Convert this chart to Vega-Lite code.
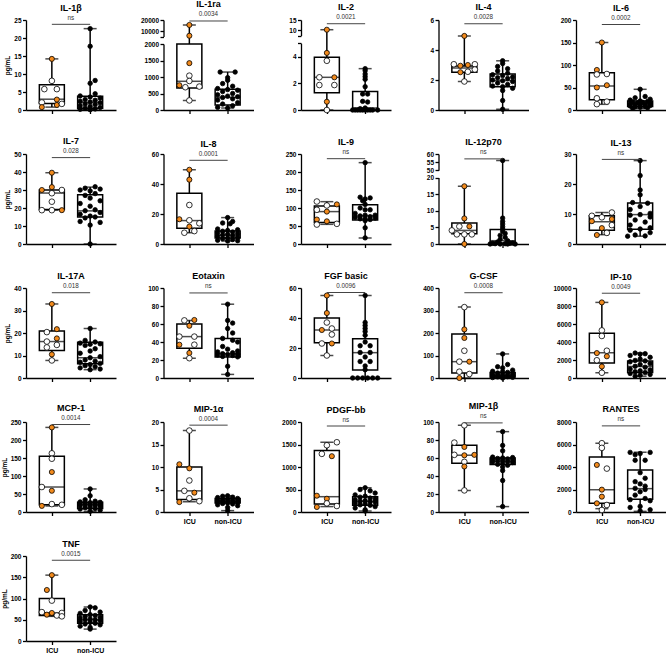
{
"$schema":"https://vega.github.io/schema/vega-lite/v6.json",
"padding":{"left":1,"top":0,"right":0,"bottom":0},
"columns":5,
"spacing":{"row":44,"column":47.5},
"bounds":"flush",
"config":{
 "view":{"stroke":null},
 "font":"Liberation Sans",
 "axis":{"grid":false,"labelOverlap":false,"domainColor":"#000","domainWidth":1.3,"tickColor":"#000","tickWidth":1.3,"tickSize":3.5,"labelColor":"#000","labelFont":"Liberation Sans","labelFontSize":6.5,"labelFontWeight":"bold","labelPadding":1.5,"titleFont":"Liberation Sans","titleFontSize":6.5,"titleFontWeight":"bold","titleColor":"#000","titlePadding":3},
 "axisX":{"labelFontSize":7,"labelPadding":2,"labelAngle":0},
 "axisY":{"tickCount":20},
 "title":{"font":"Liberation Sans","fontSize":9,"fontWeight":"bold","color":"#000","offset":2},
 "tick":{"thickness":1.5,"color":"#000"},
 "rule":{"color":"#000","strokeWidth":1.5},
 "bar":{"fill":"#fff","stroke":"#000","strokeWidth":1.5},
 "circle":{"stroke":"#000","strokeWidth":0.8,"opacity":1},
 "text":{"fontSize":6.3,"color":"#333","dx":19,"dy":-6.5,"font":"Liberation Sans"},
 "range":{"category":["#000000","#F28A1C","#ffffff"]}
},
"datasets":{
"box":[
{"c":1,"g":"ICU","lo":0.8,"q1":1.8,"md":3.0,"q3":7.0,"hi":14.2},
{"c":1,"g":"non-ICU","lo":0.1,"q1":0.5,"md":2.1,"q3":3.8,"hi":22.6},
{"c":2,"g":"ICU","lo":290,"q1":670,"md":870,"q3":2000,"hi":15500},
{"c":2,"g":"non-ICU","lo":60,"q1":150,"md":380,"q3":630,"hi":1150},
{"c":3,"g":"ICU","lo":0,"q1":1.3,"md":2.45,"q3":3.95,"hi":10.3},
{"c":3,"g":"non-ICU","lo":0,"q1":0,"md":0.15,"q3":1.38,"hi":3.1},
{"c":4,"g":"ICU","lo":1.9,"q1":2.52,"md":2.8,"q3":2.94,"hi":4.94},
{"c":4,"g":"non-ICU","lo":0.05,"q1":1.55,"md":1.96,"q3":2.4,"hi":3.28},
{"c":5,"g":"ICU","lo":12.6,"q1":23,"md":53.5,"q3":83,"hi":150},
{"c":5,"g":"non-ICU","lo":3,"q1":8,"md":13,"q3":20,"hi":46},
{"c":6,"g":"ICU","lo":18.8,"q1":19.2,"md":28.3,"q3":30,"hi":39.6},
{"c":6,"g":"non-ICU","lo":0,"q1":15,"md":18.4,"q3":27.4,"hi":31.6},
{"c":7,"g":"ICU","lo":7.5,"q1":10.5,"md":15.6,"q3":33.8,"hi":49.5},
{"c":7,"g":"non-ICU","lo":2,"q1":4,"md":5.9,"q3":8.6,"hi":17.6},
{"c":8,"g":"ICU","lo":54.6,"q1":60,"md":90,"q3":105.6,"hi":117.6},
{"c":8,"g":"non-ICU","lo":16.7,"q1":67,"md":78,"q3":109,"hi":226},
{"c":9,"g":"ICU","lo":0,"q1":3.1,"md":4.1,"q3":6.3,"hi":17.4},
{"c":9,"g":"non-ICU","lo":0,"q1":0.3,"md":1.0,"q3":4.4,"hi":56},
{"c":10,"g":"ICU","lo":3.1,"q1":4.6,"md":7.4,"q3":9.4,"hi":10.5},
{"c":10,"g":"non-ICU","lo":2.6,"q1":4.9,"md":9.8,"q3":13.7,"hi":27.8},
{"c":11,"g":"ICU","lo":7.8,"q1":12.2,"md":16.2,"q3":20.9,"hi":32.9},
{"c":11,"g":"non-ICU","lo":3.7,"q1":6.3,"md":9.0,"q3":15.9,"hi":22},
{"c":12,"g":"ICU","lo":22,"q1":33,"md":46,"q3":60,"hi":64},
{"c":12,"g":"non-ICU","lo":4,"q1":23.4,"md":27.1,"q3":44,"hi":82},
{"c":13,"g":"ICU","lo":15,"q1":23.5,"md":32,"q3":40,"hi":55},
{"c":13,"g":"non-ICU","lo":0,"q1":5.3,"md":16.9,"q3":26.2,"hi":55},
{"c":14,"g":"ICU","lo":0,"q1":22,"md":72.6,"q3":195.5,"hi":315.6},
{"c":14,"g":"non-ICU","lo":0,"q1":5,"md":12,"q3":25,"hi":107},
{"c":15,"g":"ICU","lo":584,"q1":1680,"md":2810,"q3":4964,"hi":8400},
{"c":15,"g":"non-ICU","lo":200,"q1":600,"md":1280,"q3":1900,"hi":2770},
{"c":16,"g":"ICU","lo":16.7,"q1":20.4,"md":69.4,"q3":154.6,"hi":235},
{"c":16,"g":"non-ICU","lo":2,"q1":10,"md":20,"q3":27,"hi":64},
{"c":17,"g":"ICU","lo":2.3,"q1":2.8,"md":4.7,"q3":10,"hi":18.1},
{"c":17,"g":"non-ICU","lo":0.3,"q1":2.0,"md":2.4,"q3":3.0,"hi":3.6},
{"c":18,"g":"ICU","lo":120,"q1":180,"md":340,"q3":1365,"hi":1550},
{"c":18,"g":"non-ICU","lo":22,"q1":148,"md":236,"q3":340,"hi":539},
{"c":19,"g":"ICU","lo":24,"q1":54.2,"md":63.1,"q3":74.2,"hi":96.3},
{"c":19,"g":"non-ICU","lo":6,"q1":52.8,"md":56,"q3":60.1,"hi":89.3},
{"c":20,"g":"ICU","lo":297,"q1":772,"md":1988,"q3":4896,"hi":6113},
{"c":20,"g":"non-ICU","lo":59,"q1":1128,"md":2077,"q3":3739,"hi":5312},
{"c":21,"g":"ICU","lo":58,"q1":60,"md":66,"q3":100,"hi":155},
{"c":21,"g":"non-ICU","lo":28,"q1":42,"md":50,"q3":62,"hi":80}
],
"sig":[
{"c":1,"v":23.8,"p":"ns"},{"c":2,"v":19100,"p":"0.0034"},{"c":3,"v":13.2,"p":"0.0021"},{"c":4,"v":5.75,"p":"0.0028"},{"c":5,"v":190,"p":"0.0002"},
{"c":6,"v":48,"p":"0.028"},{"c":7,"v":55.8,"p":"0.0001"},{"c":8,"v":237,"p":"ns"},{"c":9,"v":57,"p":"ns"},{"c":10,"v":28.2,"p":"ns"},
{"c":11,"v":37.9,"p":"0.018"},{"c":12,"v":94.5,"p":"ns"},{"c":13,"v":57,"p":"0.0096"},{"c":14,"v":379,"p":"0.0008"},{"c":15,"v":9420,"p":"0.0049"},
{"c":16,"v":243,"p":"0.0014"},{"c":17,"v":19.3,"p":"0.0004"},{"c":18,"v":1911,"p":"ns"},{"c":19,"v":99,"p":"ns"},{"c":20,"v":7655,"p":"ns"},
{"c":21,"v":190,"p":"0.0015"}
],
"pts":[
{"c":1,"g":"ICU","k":"o","v":14.2,"l":0},{"c":1,"g":"ICU","k":"w","v":8.1,"l":0},{"c":1,"g":"ICU","k":"w","v":5.8,"l":-1.5},{"c":1,"g":"ICU","k":"w","v":5.8,"l":1},{"c":1,"g":"ICU","k":"o","v":2.9,"l":1},{"c":1,"g":"ICU","k":"w","v":2.1,"l":-2},{"c":1,"g":"ICU","k":"o","v":1.4,"l":1},{"c":1,"g":"ICU","k":"w","v":1.7,"l":2},{"c":1,"g":"ICU","k":"o","v":0.8,"l":-2},
{"c":1,"g":"non-ICU","k":"b","v":22.6,"l":0},{"c":1,"g":"non-ICU","k":"b","v":17.7,"l":0},{"c":1,"g":"non-ICU","k":"b","v":8.2,"l":1},{"c":1,"g":"non-ICU","k":"b","v":7.4,"l":0},{"c":1,"g":"non-ICU","k":"b","v":4.5,"l":1},{"c":1,"g":"non-ICU","k":"b","v":3.9,"l":-2},{"c":1,"g":"non-ICU","k":"b","v":3.6,"l":0},{"c":1,"g":"non-ICU","k":"b","v":3.3,"l":2},{"c":1,"g":"non-ICU","k":"b","v":2.9,"l":-1},{"c":1,"g":"non-ICU","k":"b","v":2.7,"l":1},{"c":1,"g":"non-ICU","k":"b","v":2.4,"l":-2},{"c":1,"g":"non-ICU","k":"b","v":2.2,"l":0},{"c":1,"g":"non-ICU","k":"b","v":2.0,"l":2},{"c":1,"g":"non-ICU","k":"b","v":1.7,"l":-1},{"c":1,"g":"non-ICU","k":"b","v":1.5,"l":1},{"c":1,"g":"non-ICU","k":"b","v":1.2,"l":-2},{"c":1,"g":"non-ICU","k":"b","v":1.0,"l":0},{"c":1,"g":"non-ICU","k":"b","v":0.7,"l":2},{"c":1,"g":"non-ICU","k":"b","v":0.5,"l":-1},{"c":1,"g":"non-ICU","k":"b","v":0.3,"l":1},{"c":1,"g":"non-ICU","k":"b","v":0.2,"l":-2},{"c":1,"g":"non-ICU","k":"b","v":0.1,"l":0},
{"c":2,"g":"ICU","k":"o","v":15500,"l":0},{"c":2,"g":"ICU","k":"o","v":5700,"l":0},{"c":2,"g":"ICU","k":"o","v":1420,"l":0},{"c":2,"g":"ICU","k":"w","v":1040,"l":0},{"c":2,"g":"ICU","k":"w","v":880,"l":0},{"c":2,"g":"ICU","k":"o","v":750,"l":-2},{"c":2,"g":"ICU","k":"w","v":690,"l":-0.8},{"c":2,"g":"ICU","k":"w","v":710,"l":2},{"c":2,"g":"ICU","k":"w","v":290,"l":0},
{"c":2,"g":"non-ICU","k":"b","v":1150,"l":-1.5},{"c":2,"g":"non-ICU","k":"b","v":1150,"l":1.5},{"c":2,"g":"non-ICU","k":"b","v":980,"l":0},{"c":2,"g":"non-ICU","k":"b","v":900,"l":0},{"c":2,"g":"non-ICU","k":"b","v":800,"l":-1},{"c":2,"g":"non-ICU","k":"b","v":720,"l":1},{"c":2,"g":"non-ICU","k":"b","v":650,"l":-2},{"c":2,"g":"non-ICU","k":"b","v":620,"l":0},{"c":2,"g":"non-ICU","k":"b","v":600,"l":2},{"c":2,"g":"non-ICU","k":"b","v":560,"l":-1},{"c":2,"g":"non-ICU","k":"b","v":500,"l":1},{"c":2,"g":"non-ICU","k":"b","v":460,"l":-2},{"c":2,"g":"non-ICU","k":"b","v":420,"l":0},{"c":2,"g":"non-ICU","k":"b","v":400,"l":2},{"c":2,"g":"non-ICU","k":"b","v":380,"l":-1},{"c":2,"g":"non-ICU","k":"b","v":340,"l":1},{"c":2,"g":"non-ICU","k":"b","v":300,"l":-2},{"c":2,"g":"non-ICU","k":"b","v":220,"l":2},{"c":2,"g":"non-ICU","k":"b","v":180,"l":-1},{"c":2,"g":"non-ICU","k":"b","v":130,"l":1},{"c":2,"g":"non-ICU","k":"b","v":80,"l":-2},{"c":2,"g":"non-ICU","k":"b","v":60,"l":0},
{"c":3,"g":"ICU","k":"o","v":10.3,"l":0},{"c":3,"g":"ICU","k":"o","v":4.28,"l":0},{"c":3,"g":"ICU","k":"w","v":3.69,"l":0},{"c":3,"g":"ICU","k":"w","v":2.45,"l":-1.5},{"c":3,"g":"ICU","k":"o","v":2.45,"l":1.5},{"c":3,"g":"ICU","k":"w","v":1.87,"l":-1.5},{"c":3,"g":"ICU","k":"w","v":1.87,"l":1.5},{"c":3,"g":"ICU","k":"o","v":0.62,"l":0},{"c":3,"g":"ICU","k":"w","v":0,"l":0},
{"c":3,"g":"non-ICU","k":"b","v":3.1,"l":0},{"c":3,"g":"non-ICU","k":"b","v":2.95,"l":0},{"c":3,"g":"non-ICU","k":"b","v":2.7,"l":0},{"c":3,"g":"non-ICU","k":"b","v":2.5,"l":0},{"c":3,"g":"non-ICU","k":"b","v":2.3,"l":0},{"c":3,"g":"non-ICU","k":"b","v":1.75,"l":0},{"c":3,"g":"non-ICU","k":"b","v":1.2,"l":-0.5},{"c":3,"g":"non-ICU","k":"b","v":1.2,"l":0.5},{"c":3,"g":"non-ICU","k":"b","v":0.65,"l":-0.5},{"c":3,"g":"non-ICU","k":"b","v":0.6,"l":0.5},{"c":3,"g":"non-ICU","k":"b","v":0.15,"l":0},{"c":3,"g":"non-ICU","k":"b","v":0.1,"l":-1},{"c":3,"g":"non-ICU","k":"b","v":0,"l":-2.5},{"c":3,"g":"non-ICU","k":"b","v":0,"l":-2},{"c":3,"g":"non-ICU","k":"b","v":0,"l":-1.5},{"c":3,"g":"non-ICU","k":"b","v":0,"l":-1},{"c":3,"g":"non-ICU","k":"b","v":0,"l":-0.5},{"c":3,"g":"non-ICU","k":"b","v":0,"l":0},{"c":3,"g":"non-ICU","k":"b","v":0,"l":0.5},{"c":3,"g":"non-ICU","k":"b","v":0,"l":1},{"c":3,"g":"non-ICU","k":"b","v":0,"l":1.5},{"c":3,"g":"non-ICU","k":"b","v":0,"l":2.5},
{"c":4,"g":"ICU","k":"o","v":4.94,"l":0},{"c":4,"g":"ICU","k":"w","v":3.05,"l":-2.1},{"c":4,"g":"ICU","k":"o","v":2.95,"l":-0.8},{"c":4,"g":"ICU","k":"o","v":3.0,"l":0.7},{"c":4,"g":"ICU","k":"w","v":3.05,"l":2.1},{"c":4,"g":"ICU","k":"o","v":2.52,"l":-0.8},{"c":4,"g":"ICU","k":"w","v":2.55,"l":0.7},{"c":4,"g":"ICU","k":"w","v":2.7,"l":2.1},{"c":4,"g":"ICU","k":"w","v":1.9,"l":0},
{"c":4,"g":"non-ICU","k":"b","v":3.28,"l":0},{"c":4,"g":"non-ICU","k":"b","v":3.1,"l":0},{"c":4,"g":"non-ICU","k":"b","v":2.9,"l":-1},{"c":4,"g":"non-ICU","k":"b","v":2.75,"l":1},{"c":4,"g":"non-ICU","k":"b","v":2.6,"l":-1},{"c":4,"g":"non-ICU","k":"b","v":2.45,"l":1},{"c":4,"g":"non-ICU","k":"b","v":2.35,"l":-2},{"c":4,"g":"non-ICU","k":"b","v":2.3,"l":0},{"c":4,"g":"non-ICU","k":"b","v":2.2,"l":2},{"c":4,"g":"non-ICU","k":"b","v":2.15,"l":-1},{"c":4,"g":"non-ICU","k":"b","v":2.1,"l":1},{"c":4,"g":"non-ICU","k":"b","v":2.0,"l":-2},{"c":4,"g":"non-ICU","k":"b","v":1.95,"l":0},{"c":4,"g":"non-ICU","k":"b","v":1.9,"l":2},{"c":4,"g":"non-ICU","k":"b","v":1.8,"l":-1},{"c":4,"g":"non-ICU","k":"b","v":1.7,"l":1},{"c":4,"g":"non-ICU","k":"b","v":1.6,"l":-2},{"c":4,"g":"non-ICU","k":"b","v":1.55,"l":0},{"c":4,"g":"non-ICU","k":"b","v":1.45,"l":2},{"c":4,"g":"non-ICU","k":"b","v":1.3,"l":0},{"c":4,"g":"non-ICU","k":"b","v":0.63,"l":0},{"c":4,"g":"non-ICU","k":"b","v":0.05,"l":0},
{"c":5,"g":"ICU","k":"o","v":150,"l":0},{"c":5,"g":"ICU","k":"o","v":89,"l":-1},{"c":5,"g":"ICU","k":"w","v":79,"l":-1},{"c":5,"g":"ICU","k":"w","v":80,"l":1},{"c":5,"g":"ICU","k":"o","v":50,"l":-1},{"c":5,"g":"ICU","k":"o","v":55,"l":1},{"c":5,"g":"ICU","k":"w","v":26,"l":-1},{"c":5,"g":"ICU","k":"w","v":13,"l":-1},{"c":5,"g":"ICU","k":"w","v":18.6,"l":1},
{"c":5,"g":"non-ICU","k":"b","v":46,"l":0},{"c":5,"g":"non-ICU","k":"b","v":30,"l":1},{"c":5,"g":"non-ICU","k":"b","v":27,"l":-1},{"c":5,"g":"non-ICU","k":"b","v":24,"l":2},{"c":5,"g":"non-ICU","k":"b","v":22,"l":-2},{"c":5,"g":"non-ICU","k":"b","v":20,"l":0},{"c":5,"g":"non-ICU","k":"b","v":19,"l":1.5},{"c":5,"g":"non-ICU","k":"b","v":18,"l":-1.5},{"c":5,"g":"non-ICU","k":"b","v":17,"l":0.5},{"c":5,"g":"non-ICU","k":"b","v":16,"l":-0.5},{"c":5,"g":"non-ICU","k":"b","v":15,"l":2},{"c":5,"g":"non-ICU","k":"b","v":14,"l":-2},{"c":5,"g":"non-ICU","k":"b","v":13,"l":1},{"c":5,"g":"non-ICU","k":"b","v":12,"l":-1},{"c":5,"g":"non-ICU","k":"b","v":11,"l":0},{"c":5,"g":"non-ICU","k":"b","v":10,"l":2},{"c":5,"g":"non-ICU","k":"b","v":9,"l":-2},{"c":5,"g":"non-ICU","k":"b","v":8,"l":1},{"c":5,"g":"non-ICU","k":"b","v":7,"l":-1},{"c":5,"g":"non-ICU","k":"b","v":6,"l":0},{"c":5,"g":"non-ICU","k":"b","v":5,"l":1.5},{"c":5,"g":"non-ICU","k":"b","v":4,"l":-1.5},
{"c":6,"g":"ICU","k":"o","v":39.6,"l":0},{"c":6,"g":"ICU","k":"o","v":31.6,"l":0},{"c":6,"g":"ICU","k":"o","v":30,"l":-2},{"c":6,"g":"ICU","k":"w","v":30,"l":2},{"c":6,"g":"ICU","k":"w","v":28.2,"l":0},{"c":6,"g":"ICU","k":"w","v":23.5,"l":0},{"c":6,"g":"ICU","k":"w","v":18.8,"l":-2},{"c":6,"g":"ICU","k":"w","v":18.8,"l":0},{"c":6,"g":"ICU","k":"o","v":18.8,"l":2},
{"c":6,"g":"non-ICU","k":"b","v":31.8,"l":1},{"c":6,"g":"non-ICU","k":"b","v":31,"l":-1},{"c":6,"g":"non-ICU","k":"b","v":30.5,"l":2},{"c":6,"g":"non-ICU","k":"b","v":30,"l":-2},{"c":6,"g":"non-ICU","k":"b","v":29.5,"l":0},{"c":6,"g":"non-ICU","k":"b","v":28,"l":1},{"c":6,"g":"non-ICU","k":"b","v":27,"l":-1},{"c":6,"g":"non-ICU","k":"b","v":25.5,"l":0},{"c":6,"g":"non-ICU","k":"b","v":24,"l":2},{"c":6,"g":"non-ICU","k":"b","v":22.5,"l":-2},{"c":6,"g":"non-ICU","k":"b","v":21,"l":0},{"c":6,"g":"non-ICU","k":"b","v":19,"l":1},{"c":6,"g":"non-ICU","k":"b","v":18.5,"l":-1},{"c":6,"g":"non-ICU","k":"b","v":17.5,"l":2},{"c":6,"g":"non-ICU","k":"b","v":16.5,"l":-2},{"c":6,"g":"non-ICU","k":"b","v":15.5,"l":0},{"c":6,"g":"non-ICU","k":"b","v":15,"l":1},{"c":6,"g":"non-ICU","k":"b","v":14.5,"l":-1},{"c":6,"g":"non-ICU","k":"b","v":12.5,"l":-2},{"c":6,"g":"non-ICU","k":"b","v":12,"l":2},{"c":6,"g":"non-ICU","k":"b","v":10.5,"l":0},{"c":6,"g":"non-ICU","k":"b","v":0,"l":0},
{"c":7,"g":"ICU","k":"o","v":49.5,"l":0},{"c":7,"g":"ICU","k":"o","v":42.9,"l":0},{"c":7,"g":"ICU","k":"w","v":26,"l":0},{"c":7,"g":"ICU","k":"o","v":16.5,"l":-2},{"c":7,"g":"ICU","k":"w","v":15.8,"l":0},{"c":7,"g":"ICU","k":"o","v":11.6,"l":0},{"c":7,"g":"ICU","k":"w","v":13.8,"l":2},{"c":7,"g":"ICU","k":"w","v":7.5,"l":-1},{"c":7,"g":"ICU","k":"w","v":8.6,"l":1},
{"c":7,"g":"non-ICU","k":"b","v":17.6,"l":0},{"c":7,"g":"non-ICU","k":"b","v":15,"l":1},{"c":7,"g":"non-ICU","k":"b","v":14,"l":-1},{"c":7,"g":"non-ICU","k":"b","v":13.5,"l":0.5},{"c":7,"g":"non-ICU","k":"b","v":10,"l":-2},{"c":7,"g":"non-ICU","k":"b","v":9.5,"l":2},{"c":7,"g":"non-ICU","k":"b","v":9,"l":0},{"c":7,"g":"non-ICU","k":"b","v":8.5,"l":-1},{"c":7,"g":"non-ICU","k":"b","v":8,"l":1},{"c":7,"g":"non-ICU","k":"b","v":7.5,"l":-2},{"c":7,"g":"non-ICU","k":"b","v":7,"l":2},{"c":7,"g":"non-ICU","k":"b","v":6.5,"l":0},{"c":7,"g":"non-ICU","k":"b","v":6,"l":-1},{"c":7,"g":"non-ICU","k":"b","v":5.5,"l":1},{"c":7,"g":"non-ICU","k":"b","v":5,"l":-2},{"c":7,"g":"non-ICU","k":"b","v":4.5,"l":2},{"c":7,"g":"non-ICU","k":"b","v":4,"l":0},{"c":7,"g":"non-ICU","k":"b","v":3.5,"l":-1},{"c":7,"g":"non-ICU","k":"b","v":3,"l":1},{"c":7,"g":"non-ICU","k":"b","v":2.5,"l":-2},{"c":7,"g":"non-ICU","k":"b","v":2.2,"l":2},{"c":7,"g":"non-ICU","k":"b","v":2,"l":0},
{"c":8,"g":"ICU","k":"w","v":118,"l":-2},{"c":8,"g":"ICU","k":"w","v":107,"l":0},{"c":8,"g":"ICU","k":"o","v":110,"l":2},{"c":8,"g":"ICU","k":"w","v":95,"l":-2},{"c":8,"g":"ICU","k":"o","v":90,"l":0},{"c":8,"g":"ICU","k":"o","v":68,"l":-2},{"c":8,"g":"ICU","k":"o","v":63,"l":0},{"c":8,"g":"ICU","k":"w","v":54,"l":-2},{"c":8,"g":"ICU","k":"w","v":56,"l":2},
{"c":8,"g":"non-ICU","k":"b","v":226,"l":0},{"c":8,"g":"non-ICU","k":"b","v":130,"l":-1},{"c":8,"g":"non-ICU","k":"b","v":128,"l":1},{"c":8,"g":"non-ICU","k":"b","v":125,"l":0},{"c":8,"g":"non-ICU","k":"b","v":120,"l":-0.5},{"c":8,"g":"non-ICU","k":"b","v":110,"l":0},{"c":8,"g":"non-ICU","k":"b","v":100,"l":-1},{"c":8,"g":"non-ICU","k":"b","v":95,"l":1},{"c":8,"g":"non-ICU","k":"b","v":95,"l":0},{"c":8,"g":"non-ICU","k":"b","v":85,"l":-2},{"c":8,"g":"non-ICU","k":"b","v":80,"l":2},{"c":8,"g":"non-ICU","k":"b","v":80,"l":0},{"c":8,"g":"non-ICU","k":"b","v":78,"l":-1},{"c":8,"g":"non-ICU","k":"b","v":76,"l":1},{"c":8,"g":"non-ICU","k":"b","v":74,"l":-2},{"c":8,"g":"non-ICU","k":"b","v":72,"l":2},{"c":8,"g":"non-ICU","k":"b","v":70,"l":0},{"c":8,"g":"non-ICU","k":"b","v":70,"l":-1},{"c":8,"g":"non-ICU","k":"b","v":68,"l":1},{"c":8,"g":"non-ICU","k":"b","v":65,"l":0},{"c":8,"g":"non-ICU","k":"b","v":45,"l":0},{"c":8,"g":"non-ICU","k":"b","v":17,"l":0},
{"c":9,"g":"ICU","k":"o","v":17.4,"l":0},{"c":9,"g":"ICU","k":"o","v":7.7,"l":0},{"c":9,"g":"ICU","k":"w","v":5.3,"l":-1},{"c":9,"g":"ICU","k":"o","v":5.3,"l":1},{"c":9,"g":"ICU","k":"w","v":4.1,"l":-2.5},{"c":9,"g":"ICU","k":"w","v":2.9,"l":-1.5},{"c":9,"g":"ICU","k":"w","v":2.9,"l":0},{"c":9,"g":"ICU","k":"w","v":2.9,"l":1.5},{"c":9,"g":"ICU","k":"o","v":0,"l":0},
{"c":9,"g":"non-ICU","k":"b","v":56,"l":0},{"c":9,"g":"non-ICU","k":"b","v":7.8,"l":0},{"c":9,"g":"non-ICU","k":"b","v":6.8,"l":0},{"c":9,"g":"non-ICU","k":"b","v":6.0,"l":0},{"c":9,"g":"non-ICU","k":"b","v":5.2,"l":0},{"c":9,"g":"non-ICU","k":"b","v":4.5,"l":0},{"c":9,"g":"non-ICU","k":"b","v":3.8,"l":0},{"c":9,"g":"non-ICU","k":"b","v":3.2,"l":0.5},{"c":9,"g":"non-ICU","k":"b","v":2.6,"l":-0.5},{"c":9,"g":"non-ICU","k":"b","v":2.0,"l":0.5},{"c":9,"g":"non-ICU","k":"b","v":1.4,"l":-0.5},{"c":9,"g":"non-ICU","k":"b","v":1.0,"l":1},{"c":9,"g":"non-ICU","k":"b","v":0.6,"l":-1},{"c":9,"g":"non-ICU","k":"b","v":0.3,"l":2},{"c":9,"g":"non-ICU","k":"b","v":0.2,"l":-2},{"c":9,"g":"non-ICU","k":"b","v":0.2,"l":1.5},{"c":9,"g":"non-ICU","k":"b","v":0.1,"l":-1.5},{"c":9,"g":"non-ICU","k":"b","v":0.1,"l":0.5},{"c":9,"g":"non-ICU","k":"b","v":0,"l":-2.5},{"c":9,"g":"non-ICU","k":"b","v":0,"l":2.5},{"c":9,"g":"non-ICU","k":"b","v":0,"l":-0.5},{"c":9,"g":"non-ICU","k":"b","v":0,"l":1},
{"c":10,"g":"ICU","k":"w","v":10.5,"l":2},{"c":10,"g":"ICU","k":"w","v":9.4,"l":-2},{"c":10,"g":"ICU","k":"w","v":8.9,"l":0},{"c":10,"g":"ICU","k":"o","v":8.3,"l":2},{"c":10,"g":"ICU","k":"o","v":7.6,"l":-2},{"c":10,"g":"ICU","k":"w","v":6.3,"l":2},{"c":10,"g":"ICU","k":"o","v":5.3,"l":0},{"c":10,"g":"ICU","k":"w","v":3.7,"l":1},{"c":10,"g":"ICU","k":"o","v":3.0,"l":-1},
{"c":10,"g":"non-ICU","k":"b","v":27.8,"l":0},{"c":10,"g":"non-ICU","k":"b","v":22.8,"l":0},{"c":10,"g":"non-ICU","k":"b","v":18,"l":0},{"c":10,"g":"non-ICU","k":"b","v":16.4,"l":0},{"c":10,"g":"non-ICU","k":"b","v":13.8,"l":-1.5},{"c":10,"g":"non-ICU","k":"b","v":13.6,"l":1.5},{"c":10,"g":"non-ICU","k":"b","v":12.5,"l":0},{"c":10,"g":"non-ICU","k":"b","v":11.5,"l":-2},{"c":10,"g":"non-ICU","k":"b","v":10.2,"l":2},{"c":10,"g":"non-ICU","k":"b","v":9.8,"l":0},{"c":10,"g":"non-ICU","k":"b","v":9.6,"l":-2},{"c":10,"g":"non-ICU","k":"b","v":9.0,"l":2},{"c":10,"g":"non-ICU","k":"b","v":8.0,"l":-1},{"c":10,"g":"non-ICU","k":"b","v":7.3,"l":1},{"c":10,"g":"non-ICU","k":"b","v":6.3,"l":-2},{"c":10,"g":"non-ICU","k":"b","v":5.4,"l":2},{"c":10,"g":"non-ICU","k":"b","v":5.0,"l":0},{"c":10,"g":"non-ICU","k":"b","v":4.6,"l":-2},{"c":10,"g":"non-ICU","k":"b","v":3.8,"l":2},{"c":10,"g":"non-ICU","k":"b","v":3.0,"l":-1},{"c":10,"g":"non-ICU","k":"b","v":2.7,"l":1},{"c":10,"g":"non-ICU","k":"b","v":2.6,"l":-2.5},
{"c":11,"g":"ICU","k":"o","v":32.9,"l":0},{"c":11,"g":"ICU","k":"o","v":21.7,"l":1},{"c":11,"g":"ICU","k":"w","v":20.4,"l":-1},{"c":11,"g":"ICU","k":"o","v":17.6,"l":1},{"c":11,"g":"ICU","k":"w","v":16.2,"l":-1},{"c":11,"g":"ICU","k":"w","v":14.7,"l":1},{"c":11,"g":"ICU","k":"w","v":13.6,"l":-1},{"c":11,"g":"ICU","k":"o","v":10.5,"l":0},{"c":11,"g":"ICU","k":"w","v":7.8,"l":0},
{"c":11,"g":"non-ICU","k":"b","v":22,"l":0},{"c":11,"g":"non-ICU","k":"b","v":16.7,"l":-1},{"c":11,"g":"non-ICU","k":"b","v":16,"l":1},{"c":11,"g":"non-ICU","k":"b","v":15.5,"l":-2},{"c":11,"g":"non-ICU","k":"b","v":15.2,"l":2},{"c":11,"g":"non-ICU","k":"b","v":15,"l":0},{"c":11,"g":"non-ICU","k":"b","v":14.5,"l":-1},{"c":11,"g":"non-ICU","k":"b","v":13,"l":1},{"c":11,"g":"non-ICU","k":"b","v":12,"l":0},{"c":11,"g":"non-ICU","k":"b","v":11,"l":-2},{"c":11,"g":"non-ICU","k":"b","v":9.5,"l":2},{"c":11,"g":"non-ICU","k":"b","v":9,"l":0},{"c":11,"g":"non-ICU","k":"b","v":8,"l":-1},{"c":11,"g":"non-ICU","k":"b","v":7.5,"l":1},{"c":11,"g":"non-ICU","k":"b","v":7,"l":-2},{"c":11,"g":"non-ICU","k":"b","v":6.5,"l":2},{"c":11,"g":"non-ICU","k":"b","v":6,"l":0},{"c":11,"g":"non-ICU","k":"b","v":5.5,"l":-1},{"c":11,"g":"non-ICU","k":"b","v":5,"l":1},{"c":11,"g":"non-ICU","k":"b","v":4.5,"l":-2},{"c":11,"g":"non-ICU","k":"b","v":4,"l":2},{"c":11,"g":"non-ICU","k":"b","v":3.7,"l":0},
{"c":12,"g":"ICU","k":"w","v":64,"l":-1},{"c":12,"g":"ICU","k":"o","v":64.5,"l":1},{"c":12,"g":"ICU","k":"o","v":58,"l":0},{"c":12,"g":"ICU","k":"w","v":46,"l":-2},{"c":12,"g":"ICU","k":"w","v":46,"l":1},{"c":12,"g":"ICU","k":"o","v":37,"l":-2},{"c":12,"g":"ICU","k":"w","v":37,"l":1},{"c":12,"g":"ICU","k":"o","v":27.8,"l":0},{"c":12,"g":"ICU","k":"w","v":22,"l":0},
{"c":12,"g":"non-ICU","k":"b","v":82,"l":0},{"c":12,"g":"non-ICU","k":"b","v":64,"l":0},{"c":12,"g":"non-ICU","k":"b","v":61,"l":1},{"c":12,"g":"non-ICU","k":"b","v":55,"l":0},{"c":12,"g":"non-ICU","k":"b","v":50,"l":1},{"c":12,"g":"non-ICU","k":"b","v":44,"l":-1},{"c":12,"g":"non-ICU","k":"b","v":42,"l":1},{"c":12,"g":"non-ICU","k":"b","v":40,"l":2},{"c":12,"g":"non-ICU","k":"b","v":35,"l":-1},{"c":12,"g":"non-ICU","k":"b","v":32,"l":0},{"c":12,"g":"non-ICU","k":"b","v":30,"l":2},{"c":12,"g":"non-ICU","k":"b","v":29,"l":-2},{"c":12,"g":"non-ICU","k":"b","v":28,"l":1},{"c":12,"g":"non-ICU","k":"b","v":27,"l":-1},{"c":12,"g":"non-ICU","k":"b","v":26.5,"l":2},{"c":12,"g":"non-ICU","k":"b","v":26,"l":0},{"c":12,"g":"non-ICU","k":"b","v":25.5,"l":-2},{"c":12,"g":"non-ICU","k":"b","v":25,"l":1},{"c":12,"g":"non-ICU","k":"b","v":24,"l":-1},{"c":12,"g":"non-ICU","k":"b","v":23.5,"l":2},{"c":12,"g":"non-ICU","k":"b","v":13,"l":0},{"c":12,"g":"non-ICU","k":"b","v":4,"l":0},
{"c":13,"g":"ICU","k":"o","v":55,"l":0},{"c":13,"g":"ICU","k":"o","v":43.3,"l":0},{"c":13,"g":"ICU","k":"w","v":37,"l":0},{"c":13,"g":"ICU","k":"w","v":33,"l":1},{"c":13,"g":"ICU","k":"o","v":32,"l":-1},{"c":13,"g":"ICU","k":"w","v":29,"l":1},{"c":13,"g":"ICU","k":"w","v":23,"l":-1},{"c":13,"g":"ICU","k":"o","v":23,"l":1},{"c":13,"g":"ICU","k":"w","v":15,"l":0},
{"c":13,"g":"non-ICU","k":"b","v":55,"l":0},{"c":13,"g":"non-ICU","k":"b","v":37,"l":0},{"c":13,"g":"non-ICU","k":"b","v":35,"l":0},{"c":13,"g":"non-ICU","k":"b","v":33,"l":0},{"c":13,"g":"non-ICU","k":"b","v":31,"l":0},{"c":13,"g":"non-ICU","k":"b","v":28.5,"l":0},{"c":13,"g":"non-ICU","k":"b","v":24,"l":0},{"c":13,"g":"non-ICU","k":"b","v":21.5,"l":-1},{"c":13,"g":"non-ICU","k":"b","v":21.5,"l":1},{"c":13,"g":"non-ICU","k":"b","v":17,"l":-1},{"c":13,"g":"non-ICU","k":"b","v":17,"l":1},{"c":13,"g":"non-ICU","k":"b","v":14,"l":0},{"c":13,"g":"non-ICU","k":"b","v":11,"l":-1},{"c":13,"g":"non-ICU","k":"b","v":11,"l":1},{"c":13,"g":"non-ICU","k":"b","v":8,"l":0},{"c":13,"g":"non-ICU","k":"b","v":5.5,"l":0},{"c":13,"g":"non-ICU","k":"b","v":0,"l":-2.5},{"c":13,"g":"non-ICU","k":"b","v":0,"l":-1.5},{"c":13,"g":"non-ICU","k":"b","v":0,"l":-0.5},{"c":13,"g":"non-ICU","k":"b","v":0,"l":0.5},{"c":13,"g":"non-ICU","k":"b","v":0,"l":1.5},{"c":13,"g":"non-ICU","k":"b","v":0,"l":2.5},
{"c":14,"g":"ICU","k":"w","v":315,"l":0},{"c":14,"g":"ICU","k":"o","v":216,"l":0},{"c":14,"g":"ICU","k":"o","v":178,"l":0},{"c":14,"g":"ICU","k":"w","v":121,"l":0},{"c":14,"g":"ICU","k":"w","v":72.6,"l":-1},{"c":14,"g":"ICU","k":"o","v":72.6,"l":1},{"c":14,"g":"ICU","k":"w","v":28,"l":-1},{"c":14,"g":"ICU","k":"w","v":17.8,"l":1},{"c":14,"g":"ICU","k":"o","v":0,"l":-1},
{"c":14,"g":"non-ICU","k":"b","v":107,"l":0},{"c":14,"g":"non-ICU","k":"b","v":60,"l":1},{"c":14,"g":"non-ICU","k":"b","v":50,"l":-1},{"c":14,"g":"non-ICU","k":"b","v":45,"l":0},{"c":14,"g":"non-ICU","k":"b","v":35,"l":2},{"c":14,"g":"non-ICU","k":"b","v":30,"l":-2},{"c":14,"g":"non-ICU","k":"b","v":28,"l":0},{"c":14,"g":"non-ICU","k":"b","v":25,"l":1},{"c":14,"g":"non-ICU","k":"b","v":22,"l":-1},{"c":14,"g":"non-ICU","k":"b","v":20,"l":2},{"c":14,"g":"non-ICU","k":"b","v":18,"l":-2},{"c":14,"g":"non-ICU","k":"b","v":15,"l":0},{"c":14,"g":"non-ICU","k":"b","v":13,"l":1},{"c":14,"g":"non-ICU","k":"b","v":12,"l":-1},{"c":14,"g":"non-ICU","k":"b","v":10,"l":2},{"c":14,"g":"non-ICU","k":"b","v":9,"l":-2},{"c":14,"g":"non-ICU","k":"b","v":7,"l":0},{"c":14,"g":"non-ICU","k":"b","v":6,"l":1},{"c":14,"g":"non-ICU","k":"b","v":5,"l":-1},{"c":14,"g":"non-ICU","k":"b","v":3,"l":2},{"c":14,"g":"non-ICU","k":"b","v":2,"l":-2},{"c":14,"g":"non-ICU","k":"b","v":0,"l":0},
{"c":15,"g":"ICU","k":"o","v":8400,"l":0},{"c":15,"g":"ICU","k":"w","v":5290,"l":0},{"c":15,"g":"ICU","k":"w","v":4670,"l":0},{"c":15,"g":"ICU","k":"w","v":3030,"l":1},{"c":15,"g":"ICU","k":"o","v":2770,"l":-1},{"c":15,"g":"ICU","k":"o","v":2410,"l":1},{"c":15,"g":"ICU","k":"w","v":1970,"l":-1},{"c":15,"g":"ICU","k":"o","v":1280,"l":0},{"c":15,"g":"ICU","k":"w","v":584,"l":0},
{"c":15,"g":"non-ICU","k":"b","v":2770,"l":-1},{"c":15,"g":"non-ICU","k":"b","v":2700,"l":1},{"c":15,"g":"non-ICU","k":"b","v":2650,"l":0},{"c":15,"g":"non-ICU","k":"b","v":2500,"l":-2},{"c":15,"g":"non-ICU","k":"b","v":2300,"l":2},{"c":15,"g":"non-ICU","k":"b","v":2100,"l":0},{"c":15,"g":"non-ICU","k":"b","v":1950,"l":-1},{"c":15,"g":"non-ICU","k":"b","v":1900,"l":1},{"c":15,"g":"non-ICU","k":"b","v":1800,"l":-2},{"c":15,"g":"non-ICU","k":"b","v":1600,"l":2},{"c":15,"g":"non-ICU","k":"b","v":1500,"l":0},{"c":15,"g":"non-ICU","k":"b","v":1300,"l":-1},{"c":15,"g":"non-ICU","k":"b","v":1200,"l":1},{"c":15,"g":"non-ICU","k":"b","v":1000,"l":-2},{"c":15,"g":"non-ICU","k":"b","v":900,"l":2},{"c":15,"g":"non-ICU","k":"b","v":800,"l":0},{"c":15,"g":"non-ICU","k":"b","v":700,"l":-1},{"c":15,"g":"non-ICU","k":"b","v":600,"l":1},{"c":15,"g":"non-ICU","k":"b","v":500,"l":-2},{"c":15,"g":"non-ICU","k":"b","v":400,"l":2},{"c":15,"g":"non-ICU","k":"b","v":300,"l":0},{"c":15,"g":"non-ICU","k":"b","v":200,"l":-1},
{"c":16,"g":"ICU","k":"o","v":235,"l":0},{"c":16,"g":"ICU","k":"w","v":163,"l":0},{"c":16,"g":"ICU","k":"w","v":148,"l":0},{"c":16,"g":"ICU","k":"o","v":111,"l":0},{"c":16,"g":"ICU","k":"w","v":69.4,"l":-2},{"c":16,"g":"ICU","k":"o","v":59,"l":0},{"c":16,"g":"ICU","k":"w","v":22,"l":0},{"c":16,"g":"ICU","k":"o","v":17,"l":-2},{"c":16,"g":"ICU","k":"w","v":20,"l":2},
{"c":16,"g":"non-ICU","k":"b","v":64,"l":0},{"c":16,"g":"non-ICU","k":"b","v":45,"l":0},{"c":16,"g":"non-ICU","k":"b","v":34,"l":-1},{"c":16,"g":"non-ICU","k":"b","v":30,"l":1},{"c":16,"g":"non-ICU","k":"b","v":28,"l":-2},{"c":16,"g":"non-ICU","k":"b","v":27,"l":2},{"c":16,"g":"non-ICU","k":"b","v":26,"l":0},{"c":16,"g":"non-ICU","k":"b","v":25,"l":-1},{"c":16,"g":"non-ICU","k":"b","v":24,"l":1},{"c":16,"g":"non-ICU","k":"b","v":23,"l":-2},{"c":16,"g":"non-ICU","k":"b","v":22,"l":2},{"c":16,"g":"non-ICU","k":"b","v":21,"l":0},{"c":16,"g":"non-ICU","k":"b","v":20,"l":-1},{"c":16,"g":"non-ICU","k":"b","v":19,"l":1},{"c":16,"g":"non-ICU","k":"b","v":18,"l":-2},{"c":16,"g":"non-ICU","k":"b","v":16,"l":2},{"c":16,"g":"non-ICU","k":"b","v":14,"l":0},{"c":16,"g":"non-ICU","k":"b","v":12,"l":-1},{"c":16,"g":"non-ICU","k":"b","v":10,"l":1},{"c":16,"g":"non-ICU","k":"b","v":8,"l":-2},{"c":16,"g":"non-ICU","k":"b","v":5,"l":2},{"c":16,"g":"non-ICU","k":"b","v":2,"l":0},
{"c":17,"g":"ICU","k":"w","v":18.1,"l":0},{"c":17,"g":"ICU","k":"o","v":10.6,"l":-2},{"c":17,"g":"ICU","k":"o","v":9.7,"l":0},{"c":17,"g":"ICU","k":"w","v":7,"l":0},{"c":17,"g":"ICU","k":"w","v":4.7,"l":-1},{"c":17,"g":"ICU","k":"o","v":4.3,"l":1},{"c":17,"g":"ICU","k":"w","v":3.05,"l":0},{"c":17,"g":"ICU","k":"o","v":2.2,"l":-2},{"c":17,"g":"ICU","k":"w","v":2.4,"l":2},
{"c":17,"g":"non-ICU","k":"b","v":3.6,"l":0},{"c":17,"g":"non-ICU","k":"b","v":3.5,"l":-1},{"c":17,"g":"non-ICU","k":"b","v":3.3,"l":1},{"c":17,"g":"non-ICU","k":"b","v":3.2,"l":-2},{"c":17,"g":"non-ICU","k":"b","v":3.0,"l":2},{"c":17,"g":"non-ICU","k":"b","v":2.9,"l":0},{"c":17,"g":"non-ICU","k":"b","v":2.8,"l":-1},{"c":17,"g":"non-ICU","k":"b","v":2.7,"l":1},{"c":17,"g":"non-ICU","k":"b","v":2.6,"l":-2},{"c":17,"g":"non-ICU","k":"b","v":2.5,"l":2},{"c":17,"g":"non-ICU","k":"b","v":2.45,"l":0},{"c":17,"g":"non-ICU","k":"b","v":2.4,"l":-1},{"c":17,"g":"non-ICU","k":"b","v":2.3,"l":1},{"c":17,"g":"non-ICU","k":"b","v":2.2,"l":-2},{"c":17,"g":"non-ICU","k":"b","v":2.1,"l":2},{"c":17,"g":"non-ICU","k":"b","v":2.0,"l":0},{"c":17,"g":"non-ICU","k":"b","v":1.9,"l":-1},{"c":17,"g":"non-ICU","k":"b","v":1.8,"l":1},{"c":17,"g":"non-ICU","k":"b","v":1.6,"l":-2},{"c":17,"g":"non-ICU","k":"b","v":1.4,"l":2},{"c":17,"g":"non-ICU","k":"b","v":1.0,"l":0},{"c":17,"g":"non-ICU","k":"b","v":0.3,"l":0},
{"c":18,"g":"ICU","k":"w","v":1550,"l":2},{"c":18,"g":"ICU","k":"w","v":1483,"l":0},{"c":18,"g":"ICU","k":"w","v":1292,"l":-1},{"c":18,"g":"ICU","k":"o","v":1240,"l":1},{"c":18,"g":"ICU","k":"o","v":362,"l":-2},{"c":18,"g":"ICU","k":"o","v":295,"l":0},{"c":18,"g":"ICU","k":"w","v":192,"l":0},{"c":18,"g":"ICU","k":"o","v":111,"l":-2},{"c":18,"g":"ICU","k":"w","v":133,"l":2},
{"c":18,"g":"non-ICU","k":"b","v":539,"l":0},{"c":18,"g":"non-ICU","k":"b","v":500,"l":-1},{"c":18,"g":"non-ICU","k":"b","v":470,"l":1},{"c":18,"g":"non-ICU","k":"b","v":420,"l":2},{"c":18,"g":"non-ICU","k":"b","v":380,"l":-2},{"c":18,"g":"non-ICU","k":"b","v":350,"l":0},{"c":18,"g":"non-ICU","k":"b","v":330,"l":-1},{"c":18,"g":"non-ICU","k":"b","v":310,"l":1},{"c":18,"g":"non-ICU","k":"b","v":290,"l":2},{"c":18,"g":"non-ICU","k":"b","v":270,"l":-2},{"c":18,"g":"non-ICU","k":"b","v":250,"l":0},{"c":18,"g":"non-ICU","k":"b","v":240,"l":-1},{"c":18,"g":"non-ICU","k":"b","v":230,"l":1},{"c":18,"g":"non-ICU","k":"b","v":220,"l":2},{"c":18,"g":"non-ICU","k":"b","v":200,"l":-2},{"c":18,"g":"non-ICU","k":"b","v":180,"l":0},{"c":18,"g":"non-ICU","k":"b","v":160,"l":-1},{"c":18,"g":"non-ICU","k":"b","v":150,"l":1},{"c":18,"g":"non-ICU","k":"b","v":120,"l":2},{"c":18,"g":"non-ICU","k":"b","v":90,"l":-2},{"c":18,"g":"non-ICU","k":"b","v":50,"l":0},{"c":18,"g":"non-ICU","k":"b","v":22,"l":0},
{"c":19,"g":"ICU","k":"w","v":96.3,"l":0},{"c":19,"g":"ICU","k":"w","v":77.1,"l":-2},{"c":19,"g":"ICU","k":"o","v":72.3,"l":0},{"c":19,"g":"ICU","k":"w","v":63.5,"l":-2},{"c":19,"g":"ICU","k":"o","v":63,"l":0},{"c":19,"g":"ICU","k":"o","v":63.5,"l":2},{"c":19,"g":"ICU","k":"w","v":55.7,"l":0},{"c":19,"g":"ICU","k":"o","v":50.6,"l":0},{"c":19,"g":"ICU","k":"w","v":24,"l":0},
{"c":19,"g":"non-ICU","k":"b","v":89.3,"l":0},{"c":19,"g":"non-ICU","k":"b","v":74,"l":0},{"c":19,"g":"non-ICU","k":"b","v":68,"l":0},{"c":19,"g":"non-ICU","k":"b","v":61,"l":-2},{"c":19,"g":"non-ICU","k":"b","v":60.5,"l":2},{"c":19,"g":"non-ICU","k":"b","v":60,"l":0},{"c":19,"g":"non-ICU","k":"b","v":59.5,"l":-1},{"c":19,"g":"non-ICU","k":"b","v":59,"l":1},{"c":19,"g":"non-ICU","k":"b","v":58.5,"l":-2},{"c":19,"g":"non-ICU","k":"b","v":58,"l":2},{"c":19,"g":"non-ICU","k":"b","v":57.5,"l":0},{"c":19,"g":"non-ICU","k":"b","v":57,"l":-1},{"c":19,"g":"non-ICU","k":"b","v":56,"l":1},{"c":19,"g":"non-ICU","k":"b","v":55.5,"l":-2},{"c":19,"g":"non-ICU","k":"b","v":55,"l":2},{"c":19,"g":"non-ICU","k":"b","v":54,"l":0},{"c":19,"g":"non-ICU","k":"b","v":53,"l":-1},{"c":19,"g":"non-ICU","k":"b","v":52,"l":1},{"c":19,"g":"non-ICU","k":"b","v":50,"l":0},{"c":19,"g":"non-ICU","k":"b","v":46,"l":0},{"c":19,"g":"non-ICU","k":"b","v":35,"l":0},{"c":19,"g":"non-ICU","k":"b","v":6,"l":0},
{"c":20,"g":"ICU","k":"w","v":6113,"l":0},{"c":20,"g":"ICU","k":"w","v":5700,"l":0},{"c":20,"g":"ICU","k":"o","v":4184,"l":-1},{"c":20,"g":"ICU","k":"w","v":3858,"l":1},{"c":20,"g":"ICU","k":"o","v":1988,"l":0},{"c":20,"g":"ICU","k":"o","v":1365,"l":0},{"c":20,"g":"ICU","k":"o","v":770,"l":-1},{"c":20,"g":"ICU","k":"w","v":623,"l":1},{"c":20,"g":"ICU","k":"w","v":180,"l":0},
{"c":20,"g":"non-ICU","k":"b","v":5300,"l":-2},{"c":20,"g":"non-ICU","k":"b","v":5300,"l":2},{"c":20,"g":"non-ICU","k":"b","v":5200,"l":0},{"c":20,"g":"non-ICU","k":"b","v":5100,"l":-1},{"c":20,"g":"non-ICU","k":"b","v":4600,"l":1},{"c":20,"g":"non-ICU","k":"b","v":4600,"l":-1},{"c":20,"g":"non-ICU","k":"b","v":3500,"l":0},{"c":20,"g":"non-ICU","k":"b","v":3000,"l":1},{"c":20,"g":"non-ICU","k":"b","v":2700,"l":-1},{"c":20,"g":"non-ICU","k":"b","v":2500,"l":0},{"c":20,"g":"non-ICU","k":"b","v":2300,"l":1},{"c":20,"g":"non-ICU","k":"b","v":2100,"l":-1},{"c":20,"g":"non-ICU","k":"b","v":2000,"l":1},{"c":20,"g":"non-ICU","k":"b","v":1800,"l":0},{"c":20,"g":"non-ICU","k":"b","v":1500,"l":-1},{"c":20,"g":"non-ICU","k":"b","v":1200,"l":1},{"c":20,"g":"non-ICU","k":"b","v":1100,"l":-2},{"c":20,"g":"non-ICU","k":"b","v":1000,"l":2},{"c":20,"g":"non-ICU","k":"b","v":500,"l":0},{"c":20,"g":"non-ICU","k":"b","v":400,"l":-2},{"c":20,"g":"non-ICU","k":"b","v":200,"l":2},{"c":20,"g":"non-ICU","k":"b","v":100,"l":0},
{"c":21,"g":"ICU","k":"o","v":155,"l":0},{"c":21,"g":"ICU","k":"o","v":120,"l":-1},{"c":21,"g":"ICU","k":"w","v":95,"l":0},{"c":21,"g":"ICU","k":"w","v":68,"l":-2},{"c":21,"g":"ICU","k":"o","v":66,"l":0},{"c":21,"g":"ICU","k":"w","v":66,"l":2},{"c":21,"g":"ICU","k":"o","v":62,"l":-1},{"c":21,"g":"ICU","k":"w","v":60,"l":1},{"c":21,"g":"ICU","k":"w","v":58,"l":2},
{"c":21,"g":"non-ICU","k":"b","v":80,"l":0},{"c":21,"g":"non-ICU","k":"b","v":78,"l":1},{"c":21,"g":"non-ICU","k":"b","v":72,"l":-1},{"c":21,"g":"non-ICU","k":"b","v":68,"l":2},{"c":21,"g":"non-ICU","k":"b","v":65,"l":-2},{"c":21,"g":"non-ICU","k":"b","v":62,"l":0},{"c":21,"g":"non-ICU","k":"b","v":60,"l":1},{"c":21,"g":"non-ICU","k":"b","v":58,"l":-1},{"c":21,"g":"non-ICU","k":"b","v":56,"l":2},{"c":21,"g":"non-ICU","k":"b","v":54,"l":-2},{"c":21,"g":"non-ICU","k":"b","v":52,"l":0},{"c":21,"g":"non-ICU","k":"b","v":50,"l":1},{"c":21,"g":"non-ICU","k":"b","v":50,"l":-1},{"c":21,"g":"non-ICU","k":"b","v":48,"l":2},{"c":21,"g":"non-ICU","k":"b","v":46,"l":-2},{"c":21,"g":"non-ICU","k":"b","v":44,"l":0},{"c":21,"g":"non-ICU","k":"b","v":42,"l":1},{"c":21,"g":"non-ICU","k":"b","v":40,"l":-1},{"c":21,"g":"non-ICU","k":"b","v":38,"l":2},{"c":21,"g":"non-ICU","k":"b","v":35,"l":-2},{"c":21,"g":"non-ICU","k":"b","v":32,"l":0},{"c":21,"g":"non-ICU","k":"b","v":28,"l":0}
]
},
"concat":[
{"title":"IL-1β","width":90,"height":90,"encoding":{"x":{"field":"g","type":"nominal","scale":{"type":"point","padding":0.675,"domain":["ICU","non-ICU"]},"axis":{"title":null,"labels":false}}},"layer":[
{"data":{"name":"box"},"transform":[{"filter":"datum.c==1"}],"mark":"rule","encoding":{"y":{"field":"lo","type":"quantitative","scale":{"domain":[0,25],"nice":false},"axis":{"values":[0,5,10,15,20,25],"tickCount":20,"format":"d","title":"pg/mL"}},"y2":{"field":"hi"}}},
{"data":{"name":"box"},"transform":[{"filter":"datum.c==1"}],"mark":{"type":"bar","size":25},"encoding":{"y":{"field":"q1","type":"quantitative"},"y2":{"field":"q3"}}},
{"data":{"name":"box"},"transform":[{"filter":"datum.c==1"}],"mark":{"type":"tick","size":25},"encoding":{"y":{"field":"md","type":"quantitative"}}},
{"data":{"name":"box"},"transform":[{"filter":"datum.c==1"}],"mark":{"type":"tick","size":13},"encoding":{"y":{"field":"lo","type":"quantitative"}}},
{"data":{"name":"box"},"transform":[{"filter":"datum.c==1"}],"mark":{"type":"tick","size":13},"encoding":{"y":{"field":"hi","type":"quantitative"}}},
{"data":{"name":"pts"},"transform":[{"filter":"datum.c==1"}],"mark":"circle","encoding":{"y":{"field":"v","type":"quantitative"},"xOffset":{"field":"l","type":"quantitative","scale":{"domain":[-2,2],"range":[-10,10]}},"fill":{"field":"k","type":"nominal","legend":null},"size":{"field":"k","type":"nominal","scale":{"range":[20,32,32]},"legend":null}}},
{"data":{"name":"sig"},"transform":[{"filter":"datum.c==1"}],"mark":{"type":"rule","strokeWidth":1,"color":"#444"},"encoding":{"x":{"datum":"ICU"},"x2":{"datum":"non-ICU"},"y":{"field":"v","type":"quantitative"}}},
{"data":{"name":"sig"},"transform":[{"filter":"datum.c==1"}],"mark":"text","encoding":{"x":{"datum":"ICU"},"y":{"field":"v","type":"quantitative"},"text":{"field":"p"}}}
]},
{"title":"IL-1ra","width":90,"height":90,"encoding":{"x":{"field":"g","type":"nominal","scale":{"type":"point","padding":0.675,"domain":["ICU","non-ICU"]},"axis":{"title":null,"labels":false}}},"layer":[
{"data":{"name":"box"},"transform":[{"filter":"datum.c==2"}],"mark":"rule","encoding":{"y":{"field":"lo","type":"quantitative","scale":{"domain":[0,2000,5000,20000],"range":[90,24,16.5,0],"nice":false,"zero":false},"axis":{"values":[0,500,1000,1500,2000,5000,10000,20000],"tickCount":20,"format":"d","labelExpr":"datum.value==5000?'':datum.label","domainDash":[66,7.5,100],"title":null}},"y2":{"field":"hi"}}},
{"data":{"name":"box"},"transform":[{"filter":"datum.c==2"}],"mark":{"type":"bar","size":25},"encoding":{"y":{"field":"q1","type":"quantitative"},"y2":{"field":"q3"}}},
{"data":{"name":"box"},"transform":[{"filter":"datum.c==2"}],"mark":{"type":"tick","size":25},"encoding":{"y":{"field":"md","type":"quantitative"}}},
{"data":{"name":"box"},"transform":[{"filter":"datum.c==2"}],"mark":{"type":"tick","size":13},"encoding":{"y":{"field":"lo","type":"quantitative"}}},
{"data":{"name":"box"},"transform":[{"filter":"datum.c==2"}],"mark":{"type":"tick","size":13},"encoding":{"y":{"field":"hi","type":"quantitative"}}},
{"data":{"name":"pts"},"transform":[{"filter":"datum.c==2"}],"mark":"circle","encoding":{"y":{"field":"v","type":"quantitative"},"xOffset":{"field":"l","type":"quantitative","scale":{"domain":[-2,2],"range":[-10,10]}},"fill":{"field":"k","type":"nominal","legend":null},"size":{"field":"k","type":"nominal","scale":{"range":[20,32,32]},"legend":null}}},
{"data":{"name":"sig"},"transform":[{"filter":"datum.c==2"}],"mark":{"type":"rule","strokeWidth":1,"color":"#444"},"encoding":{"x":{"datum":"ICU"},"x2":{"datum":"non-ICU"},"y":{"field":"v","type":"quantitative"}}},
{"data":{"name":"sig"},"transform":[{"filter":"datum.c==2"}],"mark":"text","encoding":{"x":{"datum":"ICU"},"y":{"field":"v","type":"quantitative"},"text":{"field":"p"}}}
]},
{"title":"IL-2","width":90,"height":90,"encoding":{"x":{"field":"g","type":"nominal","scale":{"type":"point","padding":0.675,"domain":["ICU","non-ICU"]},"axis":{"title":null,"labels":false}}},"layer":[
{"data":{"name":"box"},"transform":[{"filter":"datum.c==3"}],"mark":"rule","encoding":{"y":{"field":"lo","type":"quantitative","scale":{"domain":[0,5,7.5,15],"range":[90,23.3,15.5,0],"nice":false,"zero":false},"axis":{"values":[0,2,4,5,7.5,10,15],"tickCount":20,"format":"d","labelExpr":"(datum.value==5||datum.value==7.5)?'':datum.label","domainDash":[66.7,7.8,100],"title":null}},"y2":{"field":"hi"}}},
{"data":{"name":"box"},"transform":[{"filter":"datum.c==3"}],"mark":{"type":"bar","size":25},"encoding":{"y":{"field":"q1","type":"quantitative"},"y2":{"field":"q3"}}},
{"data":{"name":"box"},"transform":[{"filter":"datum.c==3"}],"mark":{"type":"tick","size":25},"encoding":{"y":{"field":"md","type":"quantitative"}}},
{"data":{"name":"box"},"transform":[{"filter":"datum.c==3"}],"mark":{"type":"tick","size":13},"encoding":{"y":{"field":"lo","type":"quantitative"}}},
{"data":{"name":"box"},"transform":[{"filter":"datum.c==3"}],"mark":{"type":"tick","size":13},"encoding":{"y":{"field":"hi","type":"quantitative"}}},
{"data":{"name":"pts"},"transform":[{"filter":"datum.c==3"}],"mark":"circle","encoding":{"y":{"field":"v","type":"quantitative"},"xOffset":{"field":"l","type":"quantitative","scale":{"domain":[-2,2],"range":[-10,10]}},"fill":{"field":"k","type":"nominal","legend":null},"size":{"field":"k","type":"nominal","scale":{"range":[20,32,32]},"legend":null}}},
{"data":{"name":"sig"},"transform":[{"filter":"datum.c==3"}],"mark":{"type":"rule","strokeWidth":1,"color":"#444"},"encoding":{"x":{"datum":"ICU"},"x2":{"datum":"non-ICU"},"y":{"field":"v","type":"quantitative"}}},
{"data":{"name":"sig"},"transform":[{"filter":"datum.c==3"}],"mark":"text","encoding":{"x":{"datum":"ICU"},"y":{"field":"v","type":"quantitative"},"text":{"field":"p"}}}
]},
{"title":"IL-4","width":90,"height":90,"encoding":{"x":{"field":"g","type":"nominal","scale":{"type":"point","padding":0.675,"domain":["ICU","non-ICU"]},"axis":{"title":null,"labels":false}}},"layer":[
{"data":{"name":"box"},"transform":[{"filter":"datum.c==4"}],"mark":"rule","encoding":{"y":{"field":"lo","type":"quantitative","scale":{"domain":[0,6],"nice":false},"axis":{"values":[0,2,4,6],"tickCount":20,"format":"d","title":null}},"y2":{"field":"hi"}}},
{"data":{"name":"box"},"transform":[{"filter":"datum.c==4"}],"mark":{"type":"bar","size":25},"encoding":{"y":{"field":"q1","type":"quantitative"},"y2":{"field":"q3"}}},
{"data":{"name":"box"},"transform":[{"filter":"datum.c==4"}],"mark":{"type":"tick","size":25},"encoding":{"y":{"field":"md","type":"quantitative"}}},
{"data":{"name":"box"},"transform":[{"filter":"datum.c==4"}],"mark":{"type":"tick","size":13},"encoding":{"y":{"field":"lo","type":"quantitative"}}},
{"data":{"name":"box"},"transform":[{"filter":"datum.c==4"}],"mark":{"type":"tick","size":13},"encoding":{"y":{"field":"hi","type":"quantitative"}}},
{"data":{"name":"pts"},"transform":[{"filter":"datum.c==4"}],"mark":"circle","encoding":{"y":{"field":"v","type":"quantitative"},"xOffset":{"field":"l","type":"quantitative","scale":{"domain":[-2,2],"range":[-10,10]}},"fill":{"field":"k","type":"nominal","legend":null},"size":{"field":"k","type":"nominal","scale":{"range":[20,32,32]},"legend":null}}},
{"data":{"name":"sig"},"transform":[{"filter":"datum.c==4"}],"mark":{"type":"rule","strokeWidth":1,"color":"#444"},"encoding":{"x":{"datum":"ICU"},"x2":{"datum":"non-ICU"},"y":{"field":"v","type":"quantitative"}}},
{"data":{"name":"sig"},"transform":[{"filter":"datum.c==4"}],"mark":"text","encoding":{"x":{"datum":"ICU"},"y":{"field":"v","type":"quantitative"},"text":{"field":"p"}}}
]},
{"title":"IL-6","width":90,"height":90,"encoding":{"x":{"field":"g","type":"nominal","scale":{"type":"point","padding":0.675,"domain":["ICU","non-ICU"]},"axis":{"title":null,"labels":false}}},"layer":[
{"data":{"name":"box"},"transform":[{"filter":"datum.c==5"}],"mark":"rule","encoding":{"y":{"field":"lo","type":"quantitative","scale":{"domain":[0,200],"nice":false},"axis":{"values":[0,50,100,150,200],"tickCount":20,"format":"d","title":null}},"y2":{"field":"hi"}}},
{"data":{"name":"box"},"transform":[{"filter":"datum.c==5"}],"mark":{"type":"bar","size":25},"encoding":{"y":{"field":"q1","type":"quantitative"},"y2":{"field":"q3"}}},
{"data":{"name":"box"},"transform":[{"filter":"datum.c==5"}],"mark":{"type":"tick","size":25},"encoding":{"y":{"field":"md","type":"quantitative"}}},
{"data":{"name":"box"},"transform":[{"filter":"datum.c==5"}],"mark":{"type":"tick","size":13},"encoding":{"y":{"field":"lo","type":"quantitative"}}},
{"data":{"name":"box"},"transform":[{"filter":"datum.c==5"}],"mark":{"type":"tick","size":13},"encoding":{"y":{"field":"hi","type":"quantitative"}}},
{"data":{"name":"pts"},"transform":[{"filter":"datum.c==5"}],"mark":"circle","encoding":{"y":{"field":"v","type":"quantitative"},"xOffset":{"field":"l","type":"quantitative","scale":{"domain":[-2,2],"range":[-10,10]}},"fill":{"field":"k","type":"nominal","legend":null},"size":{"field":"k","type":"nominal","scale":{"range":[20,32,32]},"legend":null}}},
{"data":{"name":"sig"},"transform":[{"filter":"datum.c==5"}],"mark":{"type":"rule","strokeWidth":1,"color":"#444"},"encoding":{"x":{"datum":"ICU"},"x2":{"datum":"non-ICU"},"y":{"field":"v","type":"quantitative"}}},
{"data":{"name":"sig"},"transform":[{"filter":"datum.c==5"}],"mark":"text","encoding":{"x":{"datum":"ICU"},"y":{"field":"v","type":"quantitative"},"text":{"field":"p"}}}
]},
{"title":"IL-7","width":90,"height":90,"encoding":{"x":{"field":"g","type":"nominal","scale":{"type":"point","padding":0.675,"domain":["ICU","non-ICU"]},"axis":{"title":null,"labels":false}}},"layer":[
{"data":{"name":"box"},"transform":[{"filter":"datum.c==6"}],"mark":"rule","encoding":{"y":{"field":"lo","type":"quantitative","scale":{"domain":[0,50],"nice":false},"axis":{"values":[0,10,20,30,40,50],"tickCount":20,"format":"d","title":"pg/mL"}},"y2":{"field":"hi"}}},
{"data":{"name":"box"},"transform":[{"filter":"datum.c==6"}],"mark":{"type":"bar","size":25},"encoding":{"y":{"field":"q1","type":"quantitative"},"y2":{"field":"q3"}}},
{"data":{"name":"box"},"transform":[{"filter":"datum.c==6"}],"mark":{"type":"tick","size":25},"encoding":{"y":{"field":"md","type":"quantitative"}}},
{"data":{"name":"box"},"transform":[{"filter":"datum.c==6"}],"mark":{"type":"tick","size":13},"encoding":{"y":{"field":"lo","type":"quantitative"}}},
{"data":{"name":"box"},"transform":[{"filter":"datum.c==6"}],"mark":{"type":"tick","size":13},"encoding":{"y":{"field":"hi","type":"quantitative"}}},
{"data":{"name":"pts"},"transform":[{"filter":"datum.c==6"}],"mark":"circle","encoding":{"y":{"field":"v","type":"quantitative"},"xOffset":{"field":"l","type":"quantitative","scale":{"domain":[-2,2],"range":[-10,10]}},"fill":{"field":"k","type":"nominal","legend":null},"size":{"field":"k","type":"nominal","scale":{"range":[20,32,32]},"legend":null}}},
{"data":{"name":"sig"},"transform":[{"filter":"datum.c==6"}],"mark":{"type":"rule","strokeWidth":1,"color":"#444"},"encoding":{"x":{"datum":"ICU"},"x2":{"datum":"non-ICU"},"y":{"field":"v","type":"quantitative"}}},
{"data":{"name":"sig"},"transform":[{"filter":"datum.c==6"}],"mark":"text","encoding":{"x":{"datum":"ICU"},"y":{"field":"v","type":"quantitative"},"text":{"field":"p"}}}
]},
{"title":"IL-8","width":90,"height":90,"encoding":{"x":{"field":"g","type":"nominal","scale":{"type":"point","padding":0.675,"domain":["ICU","non-ICU"]},"axis":{"title":null,"labels":false}}},"layer":[
{"data":{"name":"box"},"transform":[{"filter":"datum.c==7"}],"mark":"rule","encoding":{"y":{"field":"lo","type":"quantitative","scale":{"domain":[0,60],"nice":false},"axis":{"values":[0,20,40,60],"tickCount":20,"format":"d","title":null}},"y2":{"field":"hi"}}},
{"data":{"name":"box"},"transform":[{"filter":"datum.c==7"}],"mark":{"type":"bar","size":25},"encoding":{"y":{"field":"q1","type":"quantitative"},"y2":{"field":"q3"}}},
{"data":{"name":"box"},"transform":[{"filter":"datum.c==7"}],"mark":{"type":"tick","size":25},"encoding":{"y":{"field":"md","type":"quantitative"}}},
{"data":{"name":"box"},"transform":[{"filter":"datum.c==7"}],"mark":{"type":"tick","size":13},"encoding":{"y":{"field":"lo","type":"quantitative"}}},
{"data":{"name":"box"},"transform":[{"filter":"datum.c==7"}],"mark":{"type":"tick","size":13},"encoding":{"y":{"field":"hi","type":"quantitative"}}},
{"data":{"name":"pts"},"transform":[{"filter":"datum.c==7"}],"mark":"circle","encoding":{"y":{"field":"v","type":"quantitative"},"xOffset":{"field":"l","type":"quantitative","scale":{"domain":[-2,2],"range":[-10,10]}},"fill":{"field":"k","type":"nominal","legend":null},"size":{"field":"k","type":"nominal","scale":{"range":[20,32,32]},"legend":null}}},
{"data":{"name":"sig"},"transform":[{"filter":"datum.c==7"}],"mark":{"type":"rule","strokeWidth":1,"color":"#444"},"encoding":{"x":{"datum":"ICU"},"x2":{"datum":"non-ICU"},"y":{"field":"v","type":"quantitative"}}},
{"data":{"name":"sig"},"transform":[{"filter":"datum.c==7"}],"mark":"text","encoding":{"x":{"datum":"ICU"},"y":{"field":"v","type":"quantitative"},"text":{"field":"p"}}}
]},
{"title":"IL-9","width":90,"height":90,"encoding":{"x":{"field":"g","type":"nominal","scale":{"type":"point","padding":0.675,"domain":["ICU","non-ICU"]},"axis":{"title":null,"labels":false}}},"layer":[
{"data":{"name":"box"},"transform":[{"filter":"datum.c==8"}],"mark":"rule","encoding":{"y":{"field":"lo","type":"quantitative","scale":{"domain":[0,250],"nice":false},"axis":{"values":[0,50,100,150,200,250],"tickCount":20,"format":"d","title":null}},"y2":{"field":"hi"}}},
{"data":{"name":"box"},"transform":[{"filter":"datum.c==8"}],"mark":{"type":"bar","size":25},"encoding":{"y":{"field":"q1","type":"quantitative"},"y2":{"field":"q3"}}},
{"data":{"name":"box"},"transform":[{"filter":"datum.c==8"}],"mark":{"type":"tick","size":25},"encoding":{"y":{"field":"md","type":"quantitative"}}},
{"data":{"name":"box"},"transform":[{"filter":"datum.c==8"}],"mark":{"type":"tick","size":13},"encoding":{"y":{"field":"lo","type":"quantitative"}}},
{"data":{"name":"box"},"transform":[{"filter":"datum.c==8"}],"mark":{"type":"tick","size":13},"encoding":{"y":{"field":"hi","type":"quantitative"}}},
{"data":{"name":"pts"},"transform":[{"filter":"datum.c==8"}],"mark":"circle","encoding":{"y":{"field":"v","type":"quantitative"},"xOffset":{"field":"l","type":"quantitative","scale":{"domain":[-2,2],"range":[-10,10]}},"fill":{"field":"k","type":"nominal","legend":null},"size":{"field":"k","type":"nominal","scale":{"range":[20,32,32]},"legend":null}}},
{"data":{"name":"sig"},"transform":[{"filter":"datum.c==8"}],"mark":{"type":"rule","strokeWidth":1,"color":"#444"},"encoding":{"x":{"datum":"ICU"},"x2":{"datum":"non-ICU"},"y":{"field":"v","type":"quantitative"}}},
{"data":{"name":"sig"},"transform":[{"filter":"datum.c==8"}],"mark":"text","encoding":{"x":{"datum":"ICU"},"y":{"field":"v","type":"quantitative"},"text":{"field":"p"}}}
]},
{"title":"IL-12p70","width":90,"height":90,"encoding":{"x":{"field":"g","type":"nominal","scale":{"type":"point","padding":0.675,"domain":["ICU","non-ICU"]},"axis":{"title":null,"labels":false}}},"layer":[
{"data":{"name":"box"},"transform":[{"filter":"datum.c==9"}],"mark":"rule","encoding":{"y":{"field":"lo","type":"quantitative","scale":{"domain":[0,20,50,60],"range":[90,23.6,16.3,0],"nice":false,"zero":false},"axis":{"values":[0,5,10,15,20,50,55,60],"tickCount":20,"format":"d","domainDash":[66.4,7.3,100],"title":null}},"y2":{"field":"hi"}}},
{"data":{"name":"box"},"transform":[{"filter":"datum.c==9"}],"mark":{"type":"bar","size":25},"encoding":{"y":{"field":"q1","type":"quantitative"},"y2":{"field":"q3"}}},
{"data":{"name":"box"},"transform":[{"filter":"datum.c==9"}],"mark":{"type":"tick","size":25},"encoding":{"y":{"field":"md","type":"quantitative"}}},
{"data":{"name":"box"},"transform":[{"filter":"datum.c==9"}],"mark":{"type":"tick","size":13},"encoding":{"y":{"field":"lo","type":"quantitative"}}},
{"data":{"name":"box"},"transform":[{"filter":"datum.c==9"}],"mark":{"type":"tick","size":13},"encoding":{"y":{"field":"hi","type":"quantitative"}}},
{"data":{"name":"pts"},"transform":[{"filter":"datum.c==9"}],"mark":"circle","encoding":{"y":{"field":"v","type":"quantitative"},"xOffset":{"field":"l","type":"quantitative","scale":{"domain":[-2,2],"range":[-10,10]}},"fill":{"field":"k","type":"nominal","legend":null},"size":{"field":"k","type":"nominal","scale":{"range":[20,32,32]},"legend":null}}},
{"data":{"name":"sig"},"transform":[{"filter":"datum.c==9"}],"mark":{"type":"rule","strokeWidth":1,"color":"#444"},"encoding":{"x":{"datum":"ICU"},"x2":{"datum":"non-ICU"},"y":{"field":"v","type":"quantitative"}}},
{"data":{"name":"sig"},"transform":[{"filter":"datum.c==9"}],"mark":"text","encoding":{"x":{"datum":"ICU"},"y":{"field":"v","type":"quantitative"},"text":{"field":"p"}}}
]},
{"title":"IL-13","width":90,"height":90,"encoding":{"x":{"field":"g","type":"nominal","scale":{"type":"point","padding":0.675,"domain":["ICU","non-ICU"]},"axis":{"title":null,"labels":false}}},"layer":[
{"data":{"name":"box"},"transform":[{"filter":"datum.c==10"}],"mark":"rule","encoding":{"y":{"field":"lo","type":"quantitative","scale":{"domain":[0,30],"nice":false},"axis":{"values":[0,10,20,30],"tickCount":20,"format":"d","title":null}},"y2":{"field":"hi"}}},
{"data":{"name":"box"},"transform":[{"filter":"datum.c==10"}],"mark":{"type":"bar","size":25},"encoding":{"y":{"field":"q1","type":"quantitative"},"y2":{"field":"q3"}}},
{"data":{"name":"box"},"transform":[{"filter":"datum.c==10"}],"mark":{"type":"tick","size":25},"encoding":{"y":{"field":"md","type":"quantitative"}}},
{"data":{"name":"box"},"transform":[{"filter":"datum.c==10"}],"mark":{"type":"tick","size":13},"encoding":{"y":{"field":"lo","type":"quantitative"}}},
{"data":{"name":"box"},"transform":[{"filter":"datum.c==10"}],"mark":{"type":"tick","size":13},"encoding":{"y":{"field":"hi","type":"quantitative"}}},
{"data":{"name":"pts"},"transform":[{"filter":"datum.c==10"}],"mark":"circle","encoding":{"y":{"field":"v","type":"quantitative"},"xOffset":{"field":"l","type":"quantitative","scale":{"domain":[-2,2],"range":[-10,10]}},"fill":{"field":"k","type":"nominal","legend":null},"size":{"field":"k","type":"nominal","scale":{"range":[20,32,32]},"legend":null}}},
{"data":{"name":"sig"},"transform":[{"filter":"datum.c==10"}],"mark":{"type":"rule","strokeWidth":1,"color":"#444"},"encoding":{"x":{"datum":"ICU"},"x2":{"datum":"non-ICU"},"y":{"field":"v","type":"quantitative"}}},
{"data":{"name":"sig"},"transform":[{"filter":"datum.c==10"}],"mark":"text","encoding":{"x":{"datum":"ICU"},"y":{"field":"v","type":"quantitative"},"text":{"field":"p"}}}
]},
{"title":"IL-17A","width":90,"height":90,"encoding":{"x":{"field":"g","type":"nominal","scale":{"type":"point","padding":0.675,"domain":["ICU","non-ICU"]},"axis":{"title":null,"labels":false}}},"layer":[
{"data":{"name":"box"},"transform":[{"filter":"datum.c==11"}],"mark":"rule","encoding":{"y":{"field":"lo","type":"quantitative","scale":{"domain":[0,40],"nice":false},"axis":{"values":[0,10,20,30,40],"tickCount":20,"format":"d","title":"pg/mL"}},"y2":{"field":"hi"}}},
{"data":{"name":"box"},"transform":[{"filter":"datum.c==11"}],"mark":{"type":"bar","size":25},"encoding":{"y":{"field":"q1","type":"quantitative"},"y2":{"field":"q3"}}},
{"data":{"name":"box"},"transform":[{"filter":"datum.c==11"}],"mark":{"type":"tick","size":25},"encoding":{"y":{"field":"md","type":"quantitative"}}},
{"data":{"name":"box"},"transform":[{"filter":"datum.c==11"}],"mark":{"type":"tick","size":13},"encoding":{"y":{"field":"lo","type":"quantitative"}}},
{"data":{"name":"box"},"transform":[{"filter":"datum.c==11"}],"mark":{"type":"tick","size":13},"encoding":{"y":{"field":"hi","type":"quantitative"}}},
{"data":{"name":"pts"},"transform":[{"filter":"datum.c==11"}],"mark":"circle","encoding":{"y":{"field":"v","type":"quantitative"},"xOffset":{"field":"l","type":"quantitative","scale":{"domain":[-2,2],"range":[-10,10]}},"fill":{"field":"k","type":"nominal","legend":null},"size":{"field":"k","type":"nominal","scale":{"range":[20,32,32]},"legend":null}}},
{"data":{"name":"sig"},"transform":[{"filter":"datum.c==11"}],"mark":{"type":"rule","strokeWidth":1,"color":"#444"},"encoding":{"x":{"datum":"ICU"},"x2":{"datum":"non-ICU"},"y":{"field":"v","type":"quantitative"}}},
{"data":{"name":"sig"},"transform":[{"filter":"datum.c==11"}],"mark":"text","encoding":{"x":{"datum":"ICU"},"y":{"field":"v","type":"quantitative"},"text":{"field":"p"}}}
]},
{"title":"Eotaxin","width":90,"height":90,"encoding":{"x":{"field":"g","type":"nominal","scale":{"type":"point","padding":0.675,"domain":["ICU","non-ICU"]},"axis":{"title":null,"labels":false}}},"layer":[
{"data":{"name":"box"},"transform":[{"filter":"datum.c==12"}],"mark":"rule","encoding":{"y":{"field":"lo","type":"quantitative","scale":{"domain":[0,100],"nice":false},"axis":{"values":[0,20,40,60,80,100],"tickCount":20,"format":"d","title":null}},"y2":{"field":"hi"}}},
{"data":{"name":"box"},"transform":[{"filter":"datum.c==12"}],"mark":{"type":"bar","size":25},"encoding":{"y":{"field":"q1","type":"quantitative"},"y2":{"field":"q3"}}},
{"data":{"name":"box"},"transform":[{"filter":"datum.c==12"}],"mark":{"type":"tick","size":25},"encoding":{"y":{"field":"md","type":"quantitative"}}},
{"data":{"name":"box"},"transform":[{"filter":"datum.c==12"}],"mark":{"type":"tick","size":13},"encoding":{"y":{"field":"lo","type":"quantitative"}}},
{"data":{"name":"box"},"transform":[{"filter":"datum.c==12"}],"mark":{"type":"tick","size":13},"encoding":{"y":{"field":"hi","type":"quantitative"}}},
{"data":{"name":"pts"},"transform":[{"filter":"datum.c==12"}],"mark":"circle","encoding":{"y":{"field":"v","type":"quantitative"},"xOffset":{"field":"l","type":"quantitative","scale":{"domain":[-2,2],"range":[-10,10]}},"fill":{"field":"k","type":"nominal","legend":null},"size":{"field":"k","type":"nominal","scale":{"range":[20,32,32]},"legend":null}}},
{"data":{"name":"sig"},"transform":[{"filter":"datum.c==12"}],"mark":{"type":"rule","strokeWidth":1,"color":"#444"},"encoding":{"x":{"datum":"ICU"},"x2":{"datum":"non-ICU"},"y":{"field":"v","type":"quantitative"}}},
{"data":{"name":"sig"},"transform":[{"filter":"datum.c==12"}],"mark":"text","encoding":{"x":{"datum":"ICU"},"y":{"field":"v","type":"quantitative"},"text":{"field":"p"}}}
]},
{"title":"FGF basic","width":90,"height":90,"encoding":{"x":{"field":"g","type":"nominal","scale":{"type":"point","padding":0.675,"domain":["ICU","non-ICU"]},"axis":{"title":null,"labels":false}}},"layer":[
{"data":{"name":"box"},"transform":[{"filter":"datum.c==13"}],"mark":"rule","encoding":{"y":{"field":"lo","type":"quantitative","scale":{"domain":[0,60],"nice":false},"axis":{"values":[0,20,40,60],"tickCount":20,"format":"d","title":null}},"y2":{"field":"hi"}}},
{"data":{"name":"box"},"transform":[{"filter":"datum.c==13"}],"mark":{"type":"bar","size":25},"encoding":{"y":{"field":"q1","type":"quantitative"},"y2":{"field":"q3"}}},
{"data":{"name":"box"},"transform":[{"filter":"datum.c==13"}],"mark":{"type":"tick","size":25},"encoding":{"y":{"field":"md","type":"quantitative"}}},
{"data":{"name":"box"},"transform":[{"filter":"datum.c==13"}],"mark":{"type":"tick","size":13},"encoding":{"y":{"field":"lo","type":"quantitative"}}},
{"data":{"name":"box"},"transform":[{"filter":"datum.c==13"}],"mark":{"type":"tick","size":13},"encoding":{"y":{"field":"hi","type":"quantitative"}}},
{"data":{"name":"pts"},"transform":[{"filter":"datum.c==13"}],"mark":"circle","encoding":{"y":{"field":"v","type":"quantitative"},"xOffset":{"field":"l","type":"quantitative","scale":{"domain":[-2,2],"range":[-10,10]}},"fill":{"field":"k","type":"nominal","legend":null},"size":{"field":"k","type":"nominal","scale":{"range":[20,32,32]},"legend":null}}},
{"data":{"name":"sig"},"transform":[{"filter":"datum.c==13"}],"mark":{"type":"rule","strokeWidth":1,"color":"#444"},"encoding":{"x":{"datum":"ICU"},"x2":{"datum":"non-ICU"},"y":{"field":"v","type":"quantitative"}}},
{"data":{"name":"sig"},"transform":[{"filter":"datum.c==13"}],"mark":"text","encoding":{"x":{"datum":"ICU"},"y":{"field":"v","type":"quantitative"},"text":{"field":"p"}}}
]},
{"title":"G-CSF","width":90,"height":90,"encoding":{"x":{"field":"g","type":"nominal","scale":{"type":"point","padding":0.675,"domain":["ICU","non-ICU"]},"axis":{"title":null,"labels":false}}},"layer":[
{"data":{"name":"box"},"transform":[{"filter":"datum.c==14"}],"mark":"rule","encoding":{"y":{"field":"lo","type":"quantitative","scale":{"domain":[0,400],"nice":false},"axis":{"values":[0,100,200,300,400],"tickCount":20,"format":"d","title":null}},"y2":{"field":"hi"}}},
{"data":{"name":"box"},"transform":[{"filter":"datum.c==14"}],"mark":{"type":"bar","size":25},"encoding":{"y":{"field":"q1","type":"quantitative"},"y2":{"field":"q3"}}},
{"data":{"name":"box"},"transform":[{"filter":"datum.c==14"}],"mark":{"type":"tick","size":25},"encoding":{"y":{"field":"md","type":"quantitative"}}},
{"data":{"name":"box"},"transform":[{"filter":"datum.c==14"}],"mark":{"type":"tick","size":13},"encoding":{"y":{"field":"lo","type":"quantitative"}}},
{"data":{"name":"box"},"transform":[{"filter":"datum.c==14"}],"mark":{"type":"tick","size":13},"encoding":{"y":{"field":"hi","type":"quantitative"}}},
{"data":{"name":"pts"},"transform":[{"filter":"datum.c==14"}],"mark":"circle","encoding":{"y":{"field":"v","type":"quantitative"},"xOffset":{"field":"l","type":"quantitative","scale":{"domain":[-2,2],"range":[-10,10]}},"fill":{"field":"k","type":"nominal","legend":null},"size":{"field":"k","type":"nominal","scale":{"range":[20,32,32]},"legend":null}}},
{"data":{"name":"sig"},"transform":[{"filter":"datum.c==14"}],"mark":{"type":"rule","strokeWidth":1,"color":"#444"},"encoding":{"x":{"datum":"ICU"},"x2":{"datum":"non-ICU"},"y":{"field":"v","type":"quantitative"}}},
{"data":{"name":"sig"},"transform":[{"filter":"datum.c==14"}],"mark":"text","encoding":{"x":{"datum":"ICU"},"y":{"field":"v","type":"quantitative"},"text":{"field":"p"}}}
]},
{"title":"IP-10","width":90,"height":90,"encoding":{"x":{"field":"g","type":"nominal","scale":{"type":"point","padding":0.675,"domain":["ICU","non-ICU"]},"axis":{"title":null,"labels":false}}},"layer":[
{"data":{"name":"box"},"transform":[{"filter":"datum.c==15"}],"mark":"rule","encoding":{"y":{"field":"lo","type":"quantitative","scale":{"domain":[0,10000],"nice":false},"axis":{"values":[0,2000,4000,6000,8000,10000],"tickCount":20,"format":"d","title":null}},"y2":{"field":"hi"}}},
{"data":{"name":"box"},"transform":[{"filter":"datum.c==15"}],"mark":{"type":"bar","size":25},"encoding":{"y":{"field":"q1","type":"quantitative"},"y2":{"field":"q3"}}},
{"data":{"name":"box"},"transform":[{"filter":"datum.c==15"}],"mark":{"type":"tick","size":25},"encoding":{"y":{"field":"md","type":"quantitative"}}},
{"data":{"name":"box"},"transform":[{"filter":"datum.c==15"}],"mark":{"type":"tick","size":13},"encoding":{"y":{"field":"lo","type":"quantitative"}}},
{"data":{"name":"box"},"transform":[{"filter":"datum.c==15"}],"mark":{"type":"tick","size":13},"encoding":{"y":{"field":"hi","type":"quantitative"}}},
{"data":{"name":"pts"},"transform":[{"filter":"datum.c==15"}],"mark":"circle","encoding":{"y":{"field":"v","type":"quantitative"},"xOffset":{"field":"l","type":"quantitative","scale":{"domain":[-2,2],"range":[-10,10]}},"fill":{"field":"k","type":"nominal","legend":null},"size":{"field":"k","type":"nominal","scale":{"range":[20,32,32]},"legend":null}}},
{"data":{"name":"sig"},"transform":[{"filter":"datum.c==15"}],"mark":{"type":"rule","strokeWidth":1,"color":"#444"},"encoding":{"x":{"datum":"ICU"},"x2":{"datum":"non-ICU"},"y":{"field":"v","type":"quantitative"}}},
{"data":{"name":"sig"},"transform":[{"filter":"datum.c==15"}],"mark":"text","encoding":{"x":{"datum":"ICU"},"y":{"field":"v","type":"quantitative"},"text":{"field":"p"}}}
]},
{"title":"MCP-1","width":90,"height":90,"encoding":{"x":{"field":"g","type":"nominal","scale":{"type":"point","padding":0.675,"domain":["ICU","non-ICU"]},"axis":{"title":null,"labels":false}}},"layer":[
{"data":{"name":"box"},"transform":[{"filter":"datum.c==16"}],"mark":"rule","encoding":{"y":{"field":"lo","type":"quantitative","scale":{"domain":[0,250],"nice":false},"axis":{"values":[0,50,100,150,200,250],"tickCount":20,"format":"d","title":"pg/mL"}},"y2":{"field":"hi"}}},
{"data":{"name":"box"},"transform":[{"filter":"datum.c==16"}],"mark":{"type":"bar","size":25},"encoding":{"y":{"field":"q1","type":"quantitative"},"y2":{"field":"q3"}}},
{"data":{"name":"box"},"transform":[{"filter":"datum.c==16"}],"mark":{"type":"tick","size":25},"encoding":{"y":{"field":"md","type":"quantitative"}}},
{"data":{"name":"box"},"transform":[{"filter":"datum.c==16"}],"mark":{"type":"tick","size":13},"encoding":{"y":{"field":"lo","type":"quantitative"}}},
{"data":{"name":"box"},"transform":[{"filter":"datum.c==16"}],"mark":{"type":"tick","size":13},"encoding":{"y":{"field":"hi","type":"quantitative"}}},
{"data":{"name":"pts"},"transform":[{"filter":"datum.c==16"}],"mark":"circle","encoding":{"y":{"field":"v","type":"quantitative"},"xOffset":{"field":"l","type":"quantitative","scale":{"domain":[-2,2],"range":[-10,10]}},"fill":{"field":"k","type":"nominal","legend":null},"size":{"field":"k","type":"nominal","scale":{"range":[20,32,32]},"legend":null}}},
{"data":{"name":"sig"},"transform":[{"filter":"datum.c==16"}],"mark":{"type":"rule","strokeWidth":1,"color":"#444"},"encoding":{"x":{"datum":"ICU"},"x2":{"datum":"non-ICU"},"y":{"field":"v","type":"quantitative"}}},
{"data":{"name":"sig"},"transform":[{"filter":"datum.c==16"}],"mark":"text","encoding":{"x":{"datum":"ICU"},"y":{"field":"v","type":"quantitative"},"text":{"field":"p"}}}
]},
{"title":"MIP-1α","width":90,"height":90,"encoding":{"x":{"field":"g","type":"nominal","scale":{"type":"point","padding":0.675,"domain":["ICU","non-ICU"]},"axis":{"title":null,"labels":true}}},"layer":[
{"data":{"name":"box"},"transform":[{"filter":"datum.c==17"}],"mark":"rule","encoding":{"y":{"field":"lo","type":"quantitative","scale":{"domain":[0,20],"nice":false},"axis":{"values":[0,5,10,15,20],"tickCount":20,"format":"d","title":null}},"y2":{"field":"hi"}}},
{"data":{"name":"box"},"transform":[{"filter":"datum.c==17"}],"mark":{"type":"bar","size":25},"encoding":{"y":{"field":"q1","type":"quantitative"},"y2":{"field":"q3"}}},
{"data":{"name":"box"},"transform":[{"filter":"datum.c==17"}],"mark":{"type":"tick","size":25},"encoding":{"y":{"field":"md","type":"quantitative"}}},
{"data":{"name":"box"},"transform":[{"filter":"datum.c==17"}],"mark":{"type":"tick","size":13},"encoding":{"y":{"field":"lo","type":"quantitative"}}},
{"data":{"name":"box"},"transform":[{"filter":"datum.c==17"}],"mark":{"type":"tick","size":13},"encoding":{"y":{"field":"hi","type":"quantitative"}}},
{"data":{"name":"pts"},"transform":[{"filter":"datum.c==17"}],"mark":"circle","encoding":{"y":{"field":"v","type":"quantitative"},"xOffset":{"field":"l","type":"quantitative","scale":{"domain":[-2,2],"range":[-10,10]}},"fill":{"field":"k","type":"nominal","legend":null},"size":{"field":"k","type":"nominal","scale":{"range":[20,32,32]},"legend":null}}},
{"data":{"name":"sig"},"transform":[{"filter":"datum.c==17"}],"mark":{"type":"rule","strokeWidth":1,"color":"#444"},"encoding":{"x":{"datum":"ICU"},"x2":{"datum":"non-ICU"},"y":{"field":"v","type":"quantitative"}}},
{"data":{"name":"sig"},"transform":[{"filter":"datum.c==17"}],"mark":"text","encoding":{"x":{"datum":"ICU"},"y":{"field":"v","type":"quantitative"},"text":{"field":"p"}}}
]},
{"title":"PDGF-bb","width":90,"height":90,"encoding":{"x":{"field":"g","type":"nominal","scale":{"type":"point","padding":0.675,"domain":["ICU","non-ICU"]},"axis":{"title":null,"labels":true}}},"layer":[
{"data":{"name":"box"},"transform":[{"filter":"datum.c==18"}],"mark":"rule","encoding":{"y":{"field":"lo","type":"quantitative","scale":{"domain":[0,2000],"nice":false},"axis":{"values":[0,500,1000,1500,2000],"tickCount":20,"format":"d","title":null}},"y2":{"field":"hi"}}},
{"data":{"name":"box"},"transform":[{"filter":"datum.c==18"}],"mark":{"type":"bar","size":25},"encoding":{"y":{"field":"q1","type":"quantitative"},"y2":{"field":"q3"}}},
{"data":{"name":"box"},"transform":[{"filter":"datum.c==18"}],"mark":{"type":"tick","size":25},"encoding":{"y":{"field":"md","type":"quantitative"}}},
{"data":{"name":"box"},"transform":[{"filter":"datum.c==18"}],"mark":{"type":"tick","size":13},"encoding":{"y":{"field":"lo","type":"quantitative"}}},
{"data":{"name":"box"},"transform":[{"filter":"datum.c==18"}],"mark":{"type":"tick","size":13},"encoding":{"y":{"field":"hi","type":"quantitative"}}},
{"data":{"name":"pts"},"transform":[{"filter":"datum.c==18"}],"mark":"circle","encoding":{"y":{"field":"v","type":"quantitative"},"xOffset":{"field":"l","type":"quantitative","scale":{"domain":[-2,2],"range":[-10,10]}},"fill":{"field":"k","type":"nominal","legend":null},"size":{"field":"k","type":"nominal","scale":{"range":[20,32,32]},"legend":null}}},
{"data":{"name":"sig"},"transform":[{"filter":"datum.c==18"}],"mark":{"type":"rule","strokeWidth":1,"color":"#444"},"encoding":{"x":{"datum":"ICU"},"x2":{"datum":"non-ICU"},"y":{"field":"v","type":"quantitative"}}},
{"data":{"name":"sig"},"transform":[{"filter":"datum.c==18"}],"mark":"text","encoding":{"x":{"datum":"ICU"},"y":{"field":"v","type":"quantitative"},"text":{"field":"p"}}}
]},
{"title":"MIP-1β","width":90,"height":90,"encoding":{"x":{"field":"g","type":"nominal","scale":{"type":"point","padding":0.675,"domain":["ICU","non-ICU"]},"axis":{"title":null,"labels":true}}},"layer":[
{"data":{"name":"box"},"transform":[{"filter":"datum.c==19"}],"mark":"rule","encoding":{"y":{"field":"lo","type":"quantitative","scale":{"domain":[0,100],"nice":false},"axis":{"values":[0,20,40,60,80,100],"tickCount":20,"format":"d","title":null}},"y2":{"field":"hi"}}},
{"data":{"name":"box"},"transform":[{"filter":"datum.c==19"}],"mark":{"type":"bar","size":25},"encoding":{"y":{"field":"q1","type":"quantitative"},"y2":{"field":"q3"}}},
{"data":{"name":"box"},"transform":[{"filter":"datum.c==19"}],"mark":{"type":"tick","size":25},"encoding":{"y":{"field":"md","type":"quantitative"}}},
{"data":{"name":"box"},"transform":[{"filter":"datum.c==19"}],"mark":{"type":"tick","size":13},"encoding":{"y":{"field":"lo","type":"quantitative"}}},
{"data":{"name":"box"},"transform":[{"filter":"datum.c==19"}],"mark":{"type":"tick","size":13},"encoding":{"y":{"field":"hi","type":"quantitative"}}},
{"data":{"name":"pts"},"transform":[{"filter":"datum.c==19"}],"mark":"circle","encoding":{"y":{"field":"v","type":"quantitative"},"xOffset":{"field":"l","type":"quantitative","scale":{"domain":[-2,2],"range":[-10,10]}},"fill":{"field":"k","type":"nominal","legend":null},"size":{"field":"k","type":"nominal","scale":{"range":[20,32,32]},"legend":null}}},
{"data":{"name":"sig"},"transform":[{"filter":"datum.c==19"}],"mark":{"type":"rule","strokeWidth":1,"color":"#444"},"encoding":{"x":{"datum":"ICU"},"x2":{"datum":"non-ICU"},"y":{"field":"v","type":"quantitative"}}},
{"data":{"name":"sig"},"transform":[{"filter":"datum.c==19"}],"mark":"text","encoding":{"x":{"datum":"ICU"},"y":{"field":"v","type":"quantitative"},"text":{"field":"p"}}}
]},
{"title":"RANTES","width":90,"height":90,"encoding":{"x":{"field":"g","type":"nominal","scale":{"type":"point","padding":0.675,"domain":["ICU","non-ICU"]},"axis":{"title":null,"labels":true}}},"layer":[
{"data":{"name":"box"},"transform":[{"filter":"datum.c==20"}],"mark":"rule","encoding":{"y":{"field":"lo","type":"quantitative","scale":{"domain":[0,8000],"nice":false},"axis":{"values":[0,2000,4000,6000,8000],"tickCount":20,"format":"d","title":null}},"y2":{"field":"hi"}}},
{"data":{"name":"box"},"transform":[{"filter":"datum.c==20"}],"mark":{"type":"bar","size":25},"encoding":{"y":{"field":"q1","type":"quantitative"},"y2":{"field":"q3"}}},
{"data":{"name":"box"},"transform":[{"filter":"datum.c==20"}],"mark":{"type":"tick","size":25},"encoding":{"y":{"field":"md","type":"quantitative"}}},
{"data":{"name":"box"},"transform":[{"filter":"datum.c==20"}],"mark":{"type":"tick","size":13},"encoding":{"y":{"field":"lo","type":"quantitative"}}},
{"data":{"name":"box"},"transform":[{"filter":"datum.c==20"}],"mark":{"type":"tick","size":13},"encoding":{"y":{"field":"hi","type":"quantitative"}}},
{"data":{"name":"pts"},"transform":[{"filter":"datum.c==20"}],"mark":"circle","encoding":{"y":{"field":"v","type":"quantitative"},"xOffset":{"field":"l","type":"quantitative","scale":{"domain":[-2,2],"range":[-10,10]}},"fill":{"field":"k","type":"nominal","legend":null},"size":{"field":"k","type":"nominal","scale":{"range":[20,32,32]},"legend":null}}},
{"data":{"name":"sig"},"transform":[{"filter":"datum.c==20"}],"mark":{"type":"rule","strokeWidth":1,"color":"#444"},"encoding":{"x":{"datum":"ICU"},"x2":{"datum":"non-ICU"},"y":{"field":"v","type":"quantitative"}}},
{"data":{"name":"sig"},"transform":[{"filter":"datum.c==20"}],"mark":"text","encoding":{"x":{"datum":"ICU"},"y":{"field":"v","type":"quantitative"},"text":{"field":"p"}}}
]},
{"title":"TNF","width":90,"height":85,"encoding":{"x":{"field":"g","type":"nominal","scale":{"type":"point","padding":0.675,"domain":["ICU","non-ICU"]},"axis":{"title":null,"labels":true}}},"layer":[
{"data":{"name":"box"},"transform":[{"filter":"datum.c==21"}],"mark":"rule","encoding":{"y":{"field":"lo","type":"quantitative","scale":{"domain":[0,200],"nice":false},"axis":{"values":[0,50,100,150,200],"tickCount":20,"format":"d","title":"pg/mL"}},"y2":{"field":"hi"}}},
{"data":{"name":"box"},"transform":[{"filter":"datum.c==21"}],"mark":{"type":"bar","size":25},"encoding":{"y":{"field":"q1","type":"quantitative"},"y2":{"field":"q3"}}},
{"data":{"name":"box"},"transform":[{"filter":"datum.c==21"}],"mark":{"type":"tick","size":25},"encoding":{"y":{"field":"md","type":"quantitative"}}},
{"data":{"name":"box"},"transform":[{"filter":"datum.c==21"}],"mark":{"type":"tick","size":13},"encoding":{"y":{"field":"lo","type":"quantitative"}}},
{"data":{"name":"box"},"transform":[{"filter":"datum.c==21"}],"mark":{"type":"tick","size":13},"encoding":{"y":{"field":"hi","type":"quantitative"}}},
{"data":{"name":"pts"},"transform":[{"filter":"datum.c==21"}],"mark":"circle","encoding":{"y":{"field":"v","type":"quantitative"},"xOffset":{"field":"l","type":"quantitative","scale":{"domain":[-2,2],"range":[-10,10]}},"fill":{"field":"k","type":"nominal","legend":null},"size":{"field":"k","type":"nominal","scale":{"range":[20,32,32]},"legend":null}}},
{"data":{"name":"sig"},"transform":[{"filter":"datum.c==21"}],"mark":{"type":"rule","strokeWidth":1,"color":"#444"},"encoding":{"x":{"datum":"ICU"},"x2":{"datum":"non-ICU"},"y":{"field":"v","type":"quantitative"}}},
{"data":{"name":"sig"},"transform":[{"filter":"datum.c==21"}],"mark":"text","encoding":{"x":{"datum":"ICU"},"y":{"field":"v","type":"quantitative"},"text":{"field":"p"}}}
]}
]
}
